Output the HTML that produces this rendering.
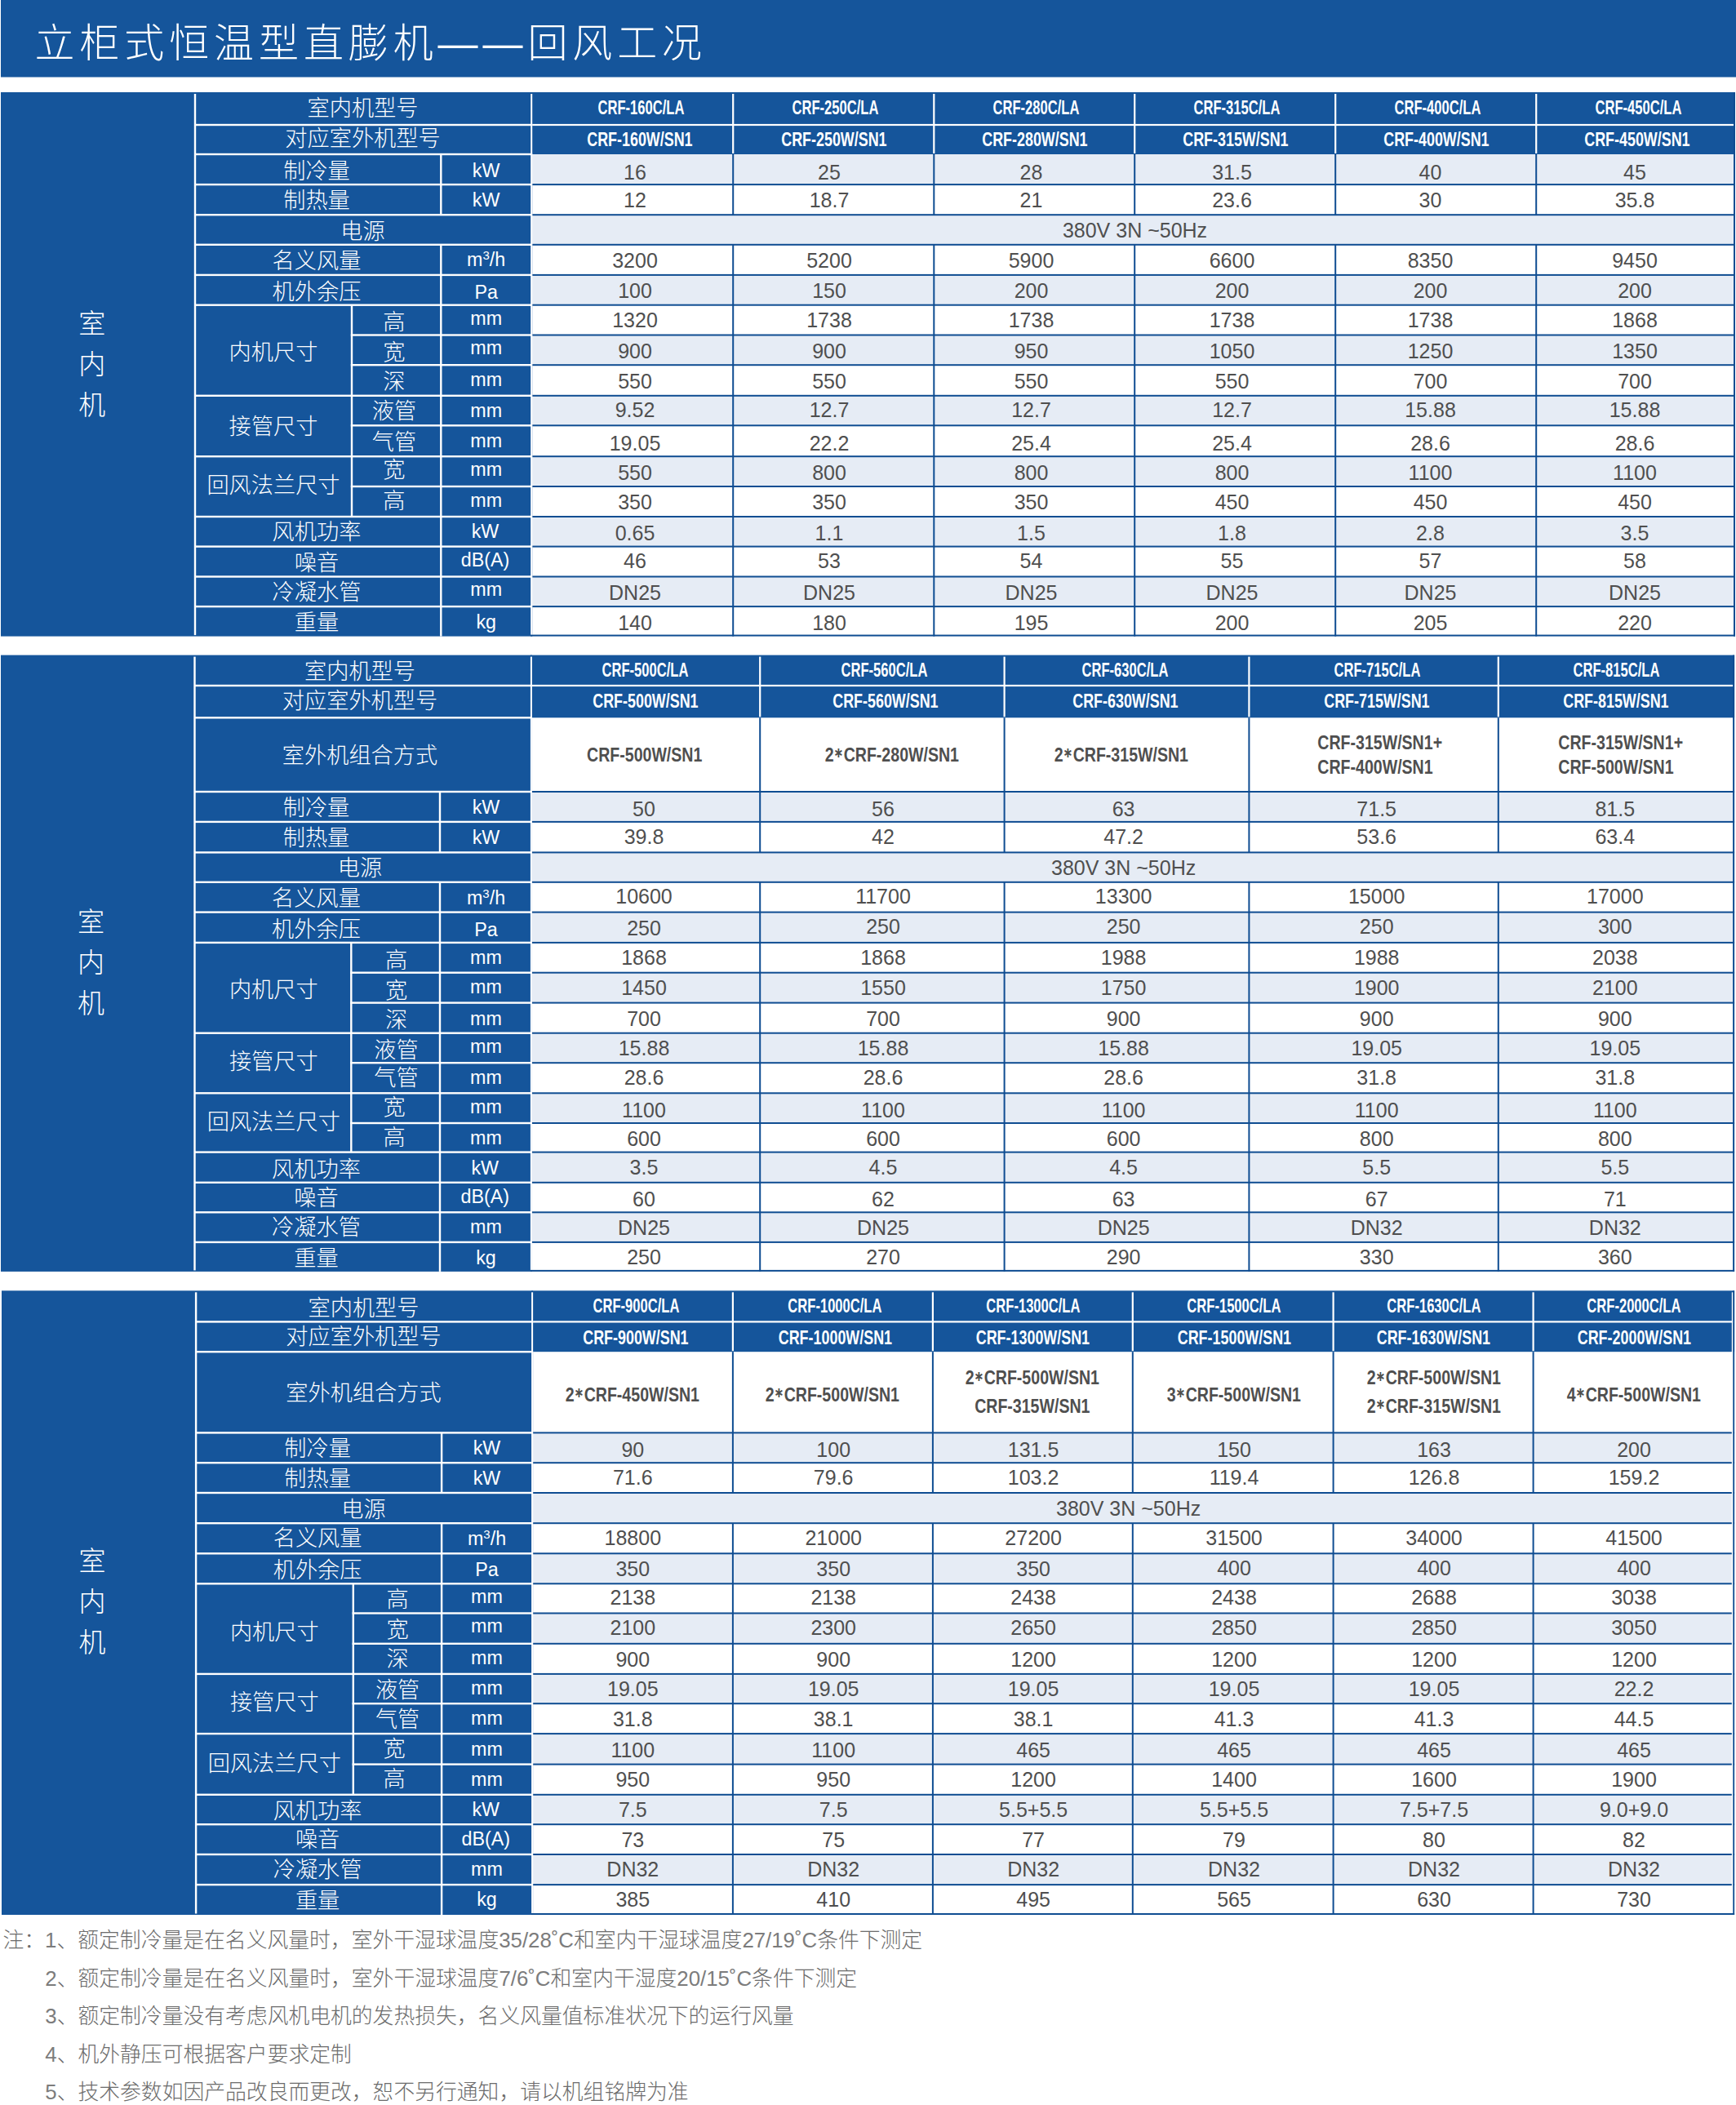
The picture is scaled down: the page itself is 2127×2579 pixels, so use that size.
<!DOCTYPE html>
<html lang="zh-CN"><head><meta charset="utf-8"><title>立柜式恒温型直膨机——回风工况</title><style>
html,body{margin:0;padding:0;background:#fff;width:2127px;height:2579px;overflow:hidden}
#pg{width:2127px;height:2579px;position:relative;overflow:hidden;font-family:"Liberation Sans","Noto Sans CJK SC",sans-serif}
.bg{position:absolute;left:0;top:0}
.t{position:absolute;text-align:center;white-space:nowrap;overflow:visible}
.cl{color:#fff;font-size:27.2px;font-weight:300}
.sd{color:#fff;font-size:33px;font-weight:300}
.u{color:#fff;font-size:23.3px}
.u sup{font-size:15px;vertical-align:baseline;position:relative;top:-8px;line-height:0}
.d{color:#4f4f4f;font-size:25px}
.h1{color:#fff;font-size:23px;font-weight:bold}
.h2{color:#fff;font-size:23.5px;font-weight:bold}
.cx{display:inline-block;transform-origin:50% 50%}
.cb{color:#4f4f4f;font-size:24px;font-weight:bold;display:flex;align-items:center;justify-content:center}
.cbi{display:inline-block;transform:scaleX(0.815)}
.ast{font-family:"DejaVu Sans",sans-serif;font-weight:bold;font-size:0.74em;line-height:0;position:relative;top:-4.6px}
.ttl{color:#fff;font-size:49px;font-weight:300;letter-spacing:5.9px}
.la{color:#7c7c7c}
.nt{color:#6c6c6c;font-size:25.8px;font-weight:300;text-align:left}
</style></head><body><div id="pg">
<svg class="bg" width="2127" height="2579" viewBox="0 0 2127 2579">
<rect x="1.0" y="0.0" width="2126.0" height="94.5" fill="#15559b"/>
<rect x="1.0" y="113.0" width="651.2" height="666.6" fill="#15559b"/>
<rect x="650.2" y="113.0" width="1475.8" height="76.0" fill="#15559b"/>
<rect x="652.2" y="189.0" width="1473.8" height="37.1" fill="#e6ecf5"/>
<rect x="652.2" y="263.2" width="1473.8" height="36.6" fill="#e6ecf5"/>
<rect x="652.2" y="336.9" width="1473.8" height="36.8" fill="#e6ecf5"/>
<rect x="652.2" y="410.5" width="1473.8" height="36.7" fill="#e6ecf5"/>
<rect x="652.2" y="484.8" width="1473.8" height="36.5" fill="#e6ecf5"/>
<rect x="652.2" y="559.2" width="1473.8" height="36.8" fill="#e6ecf5"/>
<rect x="652.2" y="633.0" width="1473.8" height="36.6" fill="#e6ecf5"/>
<rect x="652.2" y="706.5" width="1473.8" height="36.6" fill="#e6ecf5"/>
<rect x="239.0" y="151.8" width="413.2" height="2.4" fill="#fff"/>
<rect x="652.2" y="151.9" width="1473.8" height="2.2" fill="#fff"/>
<rect x="239.0" y="187.8" width="413.2" height="2.4" fill="#fff"/>
<rect x="239.0" y="224.9" width="413.2" height="2.4" fill="#fff"/>
<rect x="652.2" y="225.1" width="1473.8" height="2.0" fill="#0f4d92"/>
<rect x="239.0" y="262.0" width="413.2" height="2.4" fill="#fff"/>
<rect x="652.2" y="262.2" width="1473.8" height="2.0" fill="#0f4d92"/>
<rect x="239.0" y="298.6" width="413.2" height="2.4" fill="#fff"/>
<rect x="652.2" y="298.8" width="1473.8" height="2.0" fill="#0f4d92"/>
<rect x="239.0" y="335.7" width="413.2" height="2.4" fill="#fff"/>
<rect x="652.2" y="335.9" width="1473.8" height="2.0" fill="#0f4d92"/>
<rect x="239.0" y="372.5" width="413.2" height="2.4" fill="#fff"/>
<rect x="652.2" y="372.7" width="1473.8" height="2.0" fill="#0f4d92"/>
<rect x="429.8" y="409.3" width="222.4" height="2.4" fill="#fff"/>
<rect x="652.2" y="409.5" width="1473.8" height="2.0" fill="#0f4d92"/>
<rect x="429.8" y="446.0" width="222.4" height="2.4" fill="#fff"/>
<rect x="652.2" y="446.2" width="1473.8" height="2.0" fill="#0f4d92"/>
<rect x="239.0" y="483.6" width="413.2" height="2.4" fill="#fff"/>
<rect x="652.2" y="483.8" width="1473.8" height="2.0" fill="#0f4d92"/>
<rect x="429.8" y="520.1" width="222.4" height="2.4" fill="#fff"/>
<rect x="652.2" y="520.3" width="1473.8" height="2.0" fill="#0f4d92"/>
<rect x="239.0" y="558.0" width="413.2" height="2.4" fill="#fff"/>
<rect x="652.2" y="558.2" width="1473.8" height="2.0" fill="#0f4d92"/>
<rect x="429.8" y="594.8" width="222.4" height="2.4" fill="#fff"/>
<rect x="652.2" y="595.0" width="1473.8" height="2.0" fill="#0f4d92"/>
<rect x="239.0" y="631.8" width="413.2" height="2.4" fill="#fff"/>
<rect x="652.2" y="632.0" width="1473.8" height="2.0" fill="#0f4d92"/>
<rect x="239.0" y="668.4" width="413.2" height="2.4" fill="#fff"/>
<rect x="652.2" y="668.6" width="1473.8" height="2.0" fill="#0f4d92"/>
<rect x="239.0" y="705.3" width="413.2" height="2.4" fill="#fff"/>
<rect x="652.2" y="705.5" width="1473.8" height="2.0" fill="#0f4d92"/>
<rect x="239.0" y="741.9" width="413.2" height="2.4" fill="#fff"/>
<rect x="652.2" y="742.1" width="1473.8" height="2.0" fill="#0f4d92"/>
<rect x="650.2" y="777.6" width="1475.8" height="2.0" fill="#0f4d92"/>
<rect x="650.2" y="115.0" width="2.0" height="662.6" fill="#fff"/>
<rect x="237.8" y="115.0" width="2.4" height="663.1" fill="#fff"/>
<rect x="539.1" y="189.0" width="2.4" height="37.1" fill="#fff"/>
<rect x="539.1" y="226.1" width="2.4" height="37.1" fill="#fff"/>
<rect x="539.1" y="299.8" width="2.4" height="37.1" fill="#fff"/>
<rect x="539.1" y="336.9" width="2.4" height="36.8" fill="#fff"/>
<rect x="539.1" y="373.7" width="2.4" height="36.8" fill="#fff"/>
<rect x="429.8" y="373.7" width="2.4" height="36.8" fill="#fff"/>
<rect x="539.1" y="410.5" width="2.4" height="36.7" fill="#fff"/>
<rect x="429.8" y="410.5" width="2.4" height="36.7" fill="#fff"/>
<rect x="539.1" y="447.2" width="2.4" height="37.6" fill="#fff"/>
<rect x="429.8" y="447.2" width="2.4" height="37.6" fill="#fff"/>
<rect x="539.1" y="484.8" width="2.4" height="36.5" fill="#fff"/>
<rect x="429.8" y="484.8" width="2.4" height="36.5" fill="#fff"/>
<rect x="539.1" y="521.3" width="2.4" height="37.9" fill="#fff"/>
<rect x="429.8" y="521.3" width="2.4" height="37.9" fill="#fff"/>
<rect x="539.1" y="559.2" width="2.4" height="36.8" fill="#fff"/>
<rect x="429.8" y="559.2" width="2.4" height="36.8" fill="#fff"/>
<rect x="539.1" y="596.0" width="2.4" height="37.0" fill="#fff"/>
<rect x="429.8" y="596.0" width="2.4" height="37.0" fill="#fff"/>
<rect x="539.1" y="633.0" width="2.4" height="36.6" fill="#fff"/>
<rect x="539.1" y="669.6" width="2.4" height="36.9" fill="#fff"/>
<rect x="539.1" y="706.5" width="2.4" height="36.6" fill="#fff"/>
<rect x="539.1" y="743.1" width="2.4" height="36.5" fill="#fff"/>
<rect x="897.1" y="115.0" width="2.2" height="73.0" fill="#fff"/>
<rect x="897.2" y="189.0" width="2.0" height="37.1" fill="#0f4d92"/>
<rect x="897.2" y="226.1" width="2.0" height="37.1" fill="#0f4d92"/>
<rect x="897.2" y="299.8" width="2.0" height="37.1" fill="#0f4d92"/>
<rect x="897.2" y="336.9" width="2.0" height="36.8" fill="#0f4d92"/>
<rect x="897.2" y="373.7" width="2.0" height="36.8" fill="#0f4d92"/>
<rect x="897.2" y="410.5" width="2.0" height="36.7" fill="#0f4d92"/>
<rect x="897.2" y="447.2" width="2.0" height="37.6" fill="#0f4d92"/>
<rect x="897.2" y="484.8" width="2.0" height="36.5" fill="#0f4d92"/>
<rect x="897.2" y="521.3" width="2.0" height="37.9" fill="#0f4d92"/>
<rect x="897.2" y="559.2" width="2.0" height="36.8" fill="#0f4d92"/>
<rect x="897.2" y="596.0" width="2.0" height="37.0" fill="#0f4d92"/>
<rect x="897.2" y="633.0" width="2.0" height="36.6" fill="#0f4d92"/>
<rect x="897.2" y="669.6" width="2.0" height="36.9" fill="#0f4d92"/>
<rect x="897.2" y="706.5" width="2.0" height="36.6" fill="#0f4d92"/>
<rect x="897.2" y="743.1" width="2.0" height="36.5" fill="#0f4d92"/>
<rect x="1143.2" y="115.0" width="2.2" height="73.0" fill="#fff"/>
<rect x="1143.3" y="189.0" width="2.0" height="37.1" fill="#0f4d92"/>
<rect x="1143.3" y="226.1" width="2.0" height="37.1" fill="#0f4d92"/>
<rect x="1143.3" y="299.8" width="2.0" height="37.1" fill="#0f4d92"/>
<rect x="1143.3" y="336.9" width="2.0" height="36.8" fill="#0f4d92"/>
<rect x="1143.3" y="373.7" width="2.0" height="36.8" fill="#0f4d92"/>
<rect x="1143.3" y="410.5" width="2.0" height="36.7" fill="#0f4d92"/>
<rect x="1143.3" y="447.2" width="2.0" height="37.6" fill="#0f4d92"/>
<rect x="1143.3" y="484.8" width="2.0" height="36.5" fill="#0f4d92"/>
<rect x="1143.3" y="521.3" width="2.0" height="37.9" fill="#0f4d92"/>
<rect x="1143.3" y="559.2" width="2.0" height="36.8" fill="#0f4d92"/>
<rect x="1143.3" y="596.0" width="2.0" height="37.0" fill="#0f4d92"/>
<rect x="1143.3" y="633.0" width="2.0" height="36.6" fill="#0f4d92"/>
<rect x="1143.3" y="669.6" width="2.0" height="36.9" fill="#0f4d92"/>
<rect x="1143.3" y="706.5" width="2.0" height="36.6" fill="#0f4d92"/>
<rect x="1143.3" y="743.1" width="2.0" height="36.5" fill="#0f4d92"/>
<rect x="1389.1" y="115.0" width="2.2" height="73.0" fill="#fff"/>
<rect x="1389.2" y="189.0" width="2.0" height="37.1" fill="#0f4d92"/>
<rect x="1389.2" y="226.1" width="2.0" height="37.1" fill="#0f4d92"/>
<rect x="1389.2" y="299.8" width="2.0" height="37.1" fill="#0f4d92"/>
<rect x="1389.2" y="336.9" width="2.0" height="36.8" fill="#0f4d92"/>
<rect x="1389.2" y="373.7" width="2.0" height="36.8" fill="#0f4d92"/>
<rect x="1389.2" y="410.5" width="2.0" height="36.7" fill="#0f4d92"/>
<rect x="1389.2" y="447.2" width="2.0" height="37.6" fill="#0f4d92"/>
<rect x="1389.2" y="484.8" width="2.0" height="36.5" fill="#0f4d92"/>
<rect x="1389.2" y="521.3" width="2.0" height="37.9" fill="#0f4d92"/>
<rect x="1389.2" y="559.2" width="2.0" height="36.8" fill="#0f4d92"/>
<rect x="1389.2" y="596.0" width="2.0" height="37.0" fill="#0f4d92"/>
<rect x="1389.2" y="633.0" width="2.0" height="36.6" fill="#0f4d92"/>
<rect x="1389.2" y="669.6" width="2.0" height="36.9" fill="#0f4d92"/>
<rect x="1389.2" y="706.5" width="2.0" height="36.6" fill="#0f4d92"/>
<rect x="1389.2" y="743.1" width="2.0" height="36.5" fill="#0f4d92"/>
<rect x="1635.1" y="115.0" width="2.2" height="73.0" fill="#fff"/>
<rect x="1635.2" y="189.0" width="2.0" height="37.1" fill="#0f4d92"/>
<rect x="1635.2" y="226.1" width="2.0" height="37.1" fill="#0f4d92"/>
<rect x="1635.2" y="299.8" width="2.0" height="37.1" fill="#0f4d92"/>
<rect x="1635.2" y="336.9" width="2.0" height="36.8" fill="#0f4d92"/>
<rect x="1635.2" y="373.7" width="2.0" height="36.8" fill="#0f4d92"/>
<rect x="1635.2" y="410.5" width="2.0" height="36.7" fill="#0f4d92"/>
<rect x="1635.2" y="447.2" width="2.0" height="37.6" fill="#0f4d92"/>
<rect x="1635.2" y="484.8" width="2.0" height="36.5" fill="#0f4d92"/>
<rect x="1635.2" y="521.3" width="2.0" height="37.9" fill="#0f4d92"/>
<rect x="1635.2" y="559.2" width="2.0" height="36.8" fill="#0f4d92"/>
<rect x="1635.2" y="596.0" width="2.0" height="37.0" fill="#0f4d92"/>
<rect x="1635.2" y="633.0" width="2.0" height="36.6" fill="#0f4d92"/>
<rect x="1635.2" y="669.6" width="2.0" height="36.9" fill="#0f4d92"/>
<rect x="1635.2" y="706.5" width="2.0" height="36.6" fill="#0f4d92"/>
<rect x="1635.2" y="743.1" width="2.0" height="36.5" fill="#0f4d92"/>
<rect x="1881.1" y="115.0" width="2.2" height="73.0" fill="#fff"/>
<rect x="1881.2" y="189.0" width="2.0" height="37.1" fill="#0f4d92"/>
<rect x="1881.2" y="226.1" width="2.0" height="37.1" fill="#0f4d92"/>
<rect x="1881.2" y="299.8" width="2.0" height="37.1" fill="#0f4d92"/>
<rect x="1881.2" y="336.9" width="2.0" height="36.8" fill="#0f4d92"/>
<rect x="1881.2" y="373.7" width="2.0" height="36.8" fill="#0f4d92"/>
<rect x="1881.2" y="410.5" width="2.0" height="36.7" fill="#0f4d92"/>
<rect x="1881.2" y="447.2" width="2.0" height="37.6" fill="#0f4d92"/>
<rect x="1881.2" y="484.8" width="2.0" height="36.5" fill="#0f4d92"/>
<rect x="1881.2" y="521.3" width="2.0" height="37.9" fill="#0f4d92"/>
<rect x="1881.2" y="559.2" width="2.0" height="36.8" fill="#0f4d92"/>
<rect x="1881.2" y="596.0" width="2.0" height="37.0" fill="#0f4d92"/>
<rect x="1881.2" y="633.0" width="2.0" height="36.6" fill="#0f4d92"/>
<rect x="1881.2" y="669.6" width="2.0" height="36.9" fill="#0f4d92"/>
<rect x="1881.2" y="706.5" width="2.0" height="36.6" fill="#0f4d92"/>
<rect x="1881.2" y="743.1" width="2.0" height="36.5" fill="#0f4d92"/>
<rect x="2124.0" y="113.0" width="2.0" height="666.6" fill="#0f4d92"/>
<rect x="1.0" y="802.6" width="650.9" height="755.3" fill="#15559b"/>
<rect x="649.9" y="802.6" width="1475.2" height="76.7" fill="#15559b"/>
<rect x="651.9" y="970.0" width="1473.2" height="36.9" fill="#e6ecf5"/>
<rect x="651.9" y="1044.4" width="1473.2" height="36.4" fill="#e6ecf5"/>
<rect x="651.9" y="1117.6" width="1473.2" height="37.3" fill="#e6ecf5"/>
<rect x="651.9" y="1191.7" width="1473.2" height="36.9" fill="#e6ecf5"/>
<rect x="651.9" y="1265.7" width="1473.2" height="36.5" fill="#e6ecf5"/>
<rect x="651.9" y="1339.3" width="1473.2" height="36.7" fill="#e6ecf5"/>
<rect x="651.9" y="1411.6" width="1473.2" height="37.2" fill="#e6ecf5"/>
<rect x="651.9" y="1485.3" width="1473.2" height="36.6" fill="#e6ecf5"/>
<rect x="238.5" y="838.8" width="413.4" height="2.4" fill="#fff"/>
<rect x="651.9" y="838.9" width="1473.2" height="2.2" fill="#fff"/>
<rect x="238.5" y="878.1" width="413.4" height="2.4" fill="#fff"/>
<rect x="238.5" y="968.8" width="413.4" height="2.4" fill="#fff"/>
<rect x="651.9" y="969.0" width="1473.2" height="2.0" fill="#0f4d92"/>
<rect x="238.5" y="1005.7" width="413.4" height="2.4" fill="#fff"/>
<rect x="651.9" y="1005.9" width="1473.2" height="2.0" fill="#0f4d92"/>
<rect x="238.5" y="1043.2" width="413.4" height="2.4" fill="#fff"/>
<rect x="651.9" y="1043.4" width="1473.2" height="2.0" fill="#0f4d92"/>
<rect x="238.5" y="1079.6" width="413.4" height="2.4" fill="#fff"/>
<rect x="651.9" y="1079.8" width="1473.2" height="2.0" fill="#0f4d92"/>
<rect x="238.5" y="1116.4" width="413.4" height="2.4" fill="#fff"/>
<rect x="651.9" y="1116.6" width="1473.2" height="2.0" fill="#0f4d92"/>
<rect x="238.5" y="1153.7" width="413.4" height="2.4" fill="#fff"/>
<rect x="651.9" y="1153.9" width="1473.2" height="2.0" fill="#0f4d92"/>
<rect x="429.1" y="1190.5" width="222.8" height="2.4" fill="#fff"/>
<rect x="651.9" y="1190.7" width="1473.2" height="2.0" fill="#0f4d92"/>
<rect x="429.1" y="1227.4" width="222.8" height="2.4" fill="#fff"/>
<rect x="651.9" y="1227.6" width="1473.2" height="2.0" fill="#0f4d92"/>
<rect x="238.5" y="1264.5" width="413.4" height="2.4" fill="#fff"/>
<rect x="651.9" y="1264.7" width="1473.2" height="2.0" fill="#0f4d92"/>
<rect x="429.1" y="1301.0" width="222.8" height="2.4" fill="#fff"/>
<rect x="651.9" y="1301.2" width="1473.2" height="2.0" fill="#0f4d92"/>
<rect x="238.5" y="1338.1" width="413.4" height="2.4" fill="#fff"/>
<rect x="651.9" y="1338.3" width="1473.2" height="2.0" fill="#0f4d92"/>
<rect x="429.1" y="1374.8" width="222.8" height="2.4" fill="#fff"/>
<rect x="651.9" y="1375.0" width="1473.2" height="2.0" fill="#0f4d92"/>
<rect x="238.5" y="1410.4" width="413.4" height="2.4" fill="#fff"/>
<rect x="651.9" y="1410.6" width="1473.2" height="2.0" fill="#0f4d92"/>
<rect x="238.5" y="1447.6" width="413.4" height="2.4" fill="#fff"/>
<rect x="651.9" y="1447.8" width="1473.2" height="2.0" fill="#0f4d92"/>
<rect x="238.5" y="1484.1" width="413.4" height="2.4" fill="#fff"/>
<rect x="651.9" y="1484.3" width="1473.2" height="2.0" fill="#0f4d92"/>
<rect x="238.5" y="1520.7" width="413.4" height="2.4" fill="#fff"/>
<rect x="651.9" y="1520.9" width="1473.2" height="2.0" fill="#0f4d92"/>
<rect x="649.9" y="1555.9" width="1475.2" height="2.0" fill="#0f4d92"/>
<rect x="649.9" y="804.6" width="2.0" height="751.3" fill="#fff"/>
<rect x="237.3" y="804.6" width="2.4" height="751.8" fill="#fff"/>
<rect x="537.8" y="970.0" width="2.4" height="36.9" fill="#fff"/>
<rect x="537.8" y="1006.9" width="2.4" height="37.5" fill="#fff"/>
<rect x="537.8" y="1080.8" width="2.4" height="36.8" fill="#fff"/>
<rect x="537.8" y="1117.6" width="2.4" height="37.3" fill="#fff"/>
<rect x="537.8" y="1154.9" width="2.4" height="36.8" fill="#fff"/>
<rect x="429.1" y="1154.9" width="2.4" height="36.8" fill="#fff"/>
<rect x="537.8" y="1191.7" width="2.4" height="36.9" fill="#fff"/>
<rect x="429.1" y="1191.7" width="2.4" height="36.9" fill="#fff"/>
<rect x="537.8" y="1228.6" width="2.4" height="37.1" fill="#fff"/>
<rect x="429.1" y="1228.6" width="2.4" height="37.1" fill="#fff"/>
<rect x="537.8" y="1265.7" width="2.4" height="36.5" fill="#fff"/>
<rect x="429.1" y="1265.7" width="2.4" height="36.5" fill="#fff"/>
<rect x="537.8" y="1302.2" width="2.4" height="37.1" fill="#fff"/>
<rect x="429.1" y="1302.2" width="2.4" height="37.1" fill="#fff"/>
<rect x="537.8" y="1339.3" width="2.4" height="36.7" fill="#fff"/>
<rect x="429.1" y="1339.3" width="2.4" height="36.7" fill="#fff"/>
<rect x="537.8" y="1376.0" width="2.4" height="35.6" fill="#fff"/>
<rect x="429.1" y="1376.0" width="2.4" height="35.6" fill="#fff"/>
<rect x="537.8" y="1411.6" width="2.4" height="37.2" fill="#fff"/>
<rect x="537.8" y="1448.8" width="2.4" height="36.5" fill="#fff"/>
<rect x="537.8" y="1485.3" width="2.4" height="36.6" fill="#fff"/>
<rect x="537.8" y="1521.9" width="2.4" height="36.0" fill="#fff"/>
<rect x="930.1" y="804.6" width="2.2" height="73.7" fill="#fff"/>
<rect x="930.2" y="970.0" width="2.0" height="36.9" fill="#0f4d92"/>
<rect x="930.2" y="1006.9" width="2.0" height="37.5" fill="#0f4d92"/>
<rect x="930.2" y="1080.8" width="2.0" height="36.8" fill="#0f4d92"/>
<rect x="930.2" y="1117.6" width="2.0" height="37.3" fill="#0f4d92"/>
<rect x="930.2" y="1154.9" width="2.0" height="36.8" fill="#0f4d92"/>
<rect x="930.2" y="1191.7" width="2.0" height="36.9" fill="#0f4d92"/>
<rect x="930.2" y="1228.6" width="2.0" height="37.1" fill="#0f4d92"/>
<rect x="930.2" y="1265.7" width="2.0" height="36.5" fill="#0f4d92"/>
<rect x="930.2" y="1302.2" width="2.0" height="37.1" fill="#0f4d92"/>
<rect x="930.2" y="1339.3" width="2.0" height="36.7" fill="#0f4d92"/>
<rect x="930.2" y="1376.0" width="2.0" height="35.6" fill="#0f4d92"/>
<rect x="930.2" y="1411.6" width="2.0" height="37.2" fill="#0f4d92"/>
<rect x="930.2" y="1448.8" width="2.0" height="36.5" fill="#0f4d92"/>
<rect x="930.2" y="1485.3" width="2.0" height="36.6" fill="#0f4d92"/>
<rect x="930.2" y="1521.9" width="2.0" height="36.0" fill="#0f4d92"/>
<rect x="930.2" y="879.3" width="2.0" height="90.7" fill="#0f4d92"/>
<rect x="1229.5" y="804.6" width="2.2" height="73.7" fill="#fff"/>
<rect x="1229.6" y="970.0" width="2.0" height="36.9" fill="#0f4d92"/>
<rect x="1229.6" y="1006.9" width="2.0" height="37.5" fill="#0f4d92"/>
<rect x="1229.6" y="1080.8" width="2.0" height="36.8" fill="#0f4d92"/>
<rect x="1229.6" y="1117.6" width="2.0" height="37.3" fill="#0f4d92"/>
<rect x="1229.6" y="1154.9" width="2.0" height="36.8" fill="#0f4d92"/>
<rect x="1229.6" y="1191.7" width="2.0" height="36.9" fill="#0f4d92"/>
<rect x="1229.6" y="1228.6" width="2.0" height="37.1" fill="#0f4d92"/>
<rect x="1229.6" y="1265.7" width="2.0" height="36.5" fill="#0f4d92"/>
<rect x="1229.6" y="1302.2" width="2.0" height="37.1" fill="#0f4d92"/>
<rect x="1229.6" y="1339.3" width="2.0" height="36.7" fill="#0f4d92"/>
<rect x="1229.6" y="1376.0" width="2.0" height="35.6" fill="#0f4d92"/>
<rect x="1229.6" y="1411.6" width="2.0" height="37.2" fill="#0f4d92"/>
<rect x="1229.6" y="1448.8" width="2.0" height="36.5" fill="#0f4d92"/>
<rect x="1229.6" y="1485.3" width="2.0" height="36.6" fill="#0f4d92"/>
<rect x="1229.6" y="1521.9" width="2.0" height="36.0" fill="#0f4d92"/>
<rect x="1229.6" y="879.3" width="2.0" height="90.7" fill="#0f4d92"/>
<rect x="1529.3" y="804.6" width="2.2" height="73.7" fill="#fff"/>
<rect x="1529.4" y="970.0" width="2.0" height="36.9" fill="#0f4d92"/>
<rect x="1529.4" y="1006.9" width="2.0" height="37.5" fill="#0f4d92"/>
<rect x="1529.4" y="1080.8" width="2.0" height="36.8" fill="#0f4d92"/>
<rect x="1529.4" y="1117.6" width="2.0" height="37.3" fill="#0f4d92"/>
<rect x="1529.4" y="1154.9" width="2.0" height="36.8" fill="#0f4d92"/>
<rect x="1529.4" y="1191.7" width="2.0" height="36.9" fill="#0f4d92"/>
<rect x="1529.4" y="1228.6" width="2.0" height="37.1" fill="#0f4d92"/>
<rect x="1529.4" y="1265.7" width="2.0" height="36.5" fill="#0f4d92"/>
<rect x="1529.4" y="1302.2" width="2.0" height="37.1" fill="#0f4d92"/>
<rect x="1529.4" y="1339.3" width="2.0" height="36.7" fill="#0f4d92"/>
<rect x="1529.4" y="1376.0" width="2.0" height="35.6" fill="#0f4d92"/>
<rect x="1529.4" y="1411.6" width="2.0" height="37.2" fill="#0f4d92"/>
<rect x="1529.4" y="1448.8" width="2.0" height="36.5" fill="#0f4d92"/>
<rect x="1529.4" y="1485.3" width="2.0" height="36.6" fill="#0f4d92"/>
<rect x="1529.4" y="1521.9" width="2.0" height="36.0" fill="#0f4d92"/>
<rect x="1529.4" y="879.3" width="2.0" height="90.7" fill="#0f4d92"/>
<rect x="1834.7" y="804.6" width="2.2" height="73.7" fill="#fff"/>
<rect x="1834.8" y="970.0" width="2.0" height="36.9" fill="#0f4d92"/>
<rect x="1834.8" y="1006.9" width="2.0" height="37.5" fill="#0f4d92"/>
<rect x="1834.8" y="1080.8" width="2.0" height="36.8" fill="#0f4d92"/>
<rect x="1834.8" y="1117.6" width="2.0" height="37.3" fill="#0f4d92"/>
<rect x="1834.8" y="1154.9" width="2.0" height="36.8" fill="#0f4d92"/>
<rect x="1834.8" y="1191.7" width="2.0" height="36.9" fill="#0f4d92"/>
<rect x="1834.8" y="1228.6" width="2.0" height="37.1" fill="#0f4d92"/>
<rect x="1834.8" y="1265.7" width="2.0" height="36.5" fill="#0f4d92"/>
<rect x="1834.8" y="1302.2" width="2.0" height="37.1" fill="#0f4d92"/>
<rect x="1834.8" y="1339.3" width="2.0" height="36.7" fill="#0f4d92"/>
<rect x="1834.8" y="1376.0" width="2.0" height="35.6" fill="#0f4d92"/>
<rect x="1834.8" y="1411.6" width="2.0" height="37.2" fill="#0f4d92"/>
<rect x="1834.8" y="1448.8" width="2.0" height="36.5" fill="#0f4d92"/>
<rect x="1834.8" y="1485.3" width="2.0" height="36.6" fill="#0f4d92"/>
<rect x="1834.8" y="1521.9" width="2.0" height="36.0" fill="#0f4d92"/>
<rect x="1834.8" y="879.3" width="2.0" height="90.7" fill="#0f4d92"/>
<rect x="2123.1" y="802.6" width="2.0" height="755.3" fill="#0f4d92"/>
<rect x="2.0" y="1581.3" width="651.1" height="764.7" fill="#15559b"/>
<rect x="651.1" y="1581.3" width="1474.0" height="74.9" fill="#15559b"/>
<rect x="653.1" y="1755.4" width="1472.0" height="36.8" fill="#e6ecf5"/>
<rect x="653.1" y="1829.0" width="1472.0" height="37.2" fill="#e6ecf5"/>
<rect x="653.1" y="1903.3" width="1472.0" height="37.0" fill="#e6ecf5"/>
<rect x="653.1" y="1976.5" width="1472.0" height="37.3" fill="#e6ecf5"/>
<rect x="653.1" y="2050.9" width="1472.0" height="36.3" fill="#e6ecf5"/>
<rect x="653.1" y="2124.1" width="1472.0" height="37.5" fill="#e6ecf5"/>
<rect x="653.1" y="2198.8" width="1472.0" height="36.4" fill="#e6ecf5"/>
<rect x="653.1" y="2272.0" width="1472.0" height="37.1" fill="#e6ecf5"/>
<rect x="240.1" y="1618.2" width="413.0" height="2.4" fill="#fff"/>
<rect x="653.1" y="1618.3" width="1472.0" height="2.2" fill="#fff"/>
<rect x="240.1" y="1655.0" width="413.0" height="2.4" fill="#fff"/>
<rect x="240.1" y="1754.2" width="413.0" height="2.4" fill="#fff"/>
<rect x="653.1" y="1754.4" width="1472.0" height="2.0" fill="#0f4d92"/>
<rect x="240.1" y="1791.0" width="413.0" height="2.4" fill="#fff"/>
<rect x="653.1" y="1791.2" width="1472.0" height="2.0" fill="#0f4d92"/>
<rect x="240.1" y="1827.8" width="413.0" height="2.4" fill="#fff"/>
<rect x="653.1" y="1828.0" width="1472.0" height="2.0" fill="#0f4d92"/>
<rect x="240.1" y="1865.0" width="413.0" height="2.4" fill="#fff"/>
<rect x="653.1" y="1865.2" width="1472.0" height="2.0" fill="#0f4d92"/>
<rect x="240.1" y="1902.1" width="413.0" height="2.4" fill="#fff"/>
<rect x="653.1" y="1902.3" width="1472.0" height="2.0" fill="#0f4d92"/>
<rect x="240.1" y="1939.1" width="413.0" height="2.4" fill="#fff"/>
<rect x="653.1" y="1939.3" width="1472.0" height="2.0" fill="#0f4d92"/>
<rect x="431.6" y="1975.3" width="221.5" height="2.4" fill="#fff"/>
<rect x="653.1" y="1975.5" width="1472.0" height="2.0" fill="#0f4d92"/>
<rect x="431.6" y="2012.6" width="221.5" height="2.4" fill="#fff"/>
<rect x="653.1" y="2012.8" width="1472.0" height="2.0" fill="#0f4d92"/>
<rect x="240.1" y="2049.7" width="413.0" height="2.4" fill="#fff"/>
<rect x="653.1" y="2049.9" width="1472.0" height="2.0" fill="#0f4d92"/>
<rect x="431.6" y="2086.0" width="221.5" height="2.4" fill="#fff"/>
<rect x="653.1" y="2086.2" width="1472.0" height="2.0" fill="#0f4d92"/>
<rect x="240.1" y="2122.9" width="413.0" height="2.4" fill="#fff"/>
<rect x="653.1" y="2123.1" width="1472.0" height="2.0" fill="#0f4d92"/>
<rect x="431.6" y="2160.4" width="221.5" height="2.4" fill="#fff"/>
<rect x="653.1" y="2160.6" width="1472.0" height="2.0" fill="#0f4d92"/>
<rect x="240.1" y="2197.6" width="413.0" height="2.4" fill="#fff"/>
<rect x="653.1" y="2197.8" width="1472.0" height="2.0" fill="#0f4d92"/>
<rect x="240.1" y="2234.0" width="413.0" height="2.4" fill="#fff"/>
<rect x="653.1" y="2234.2" width="1472.0" height="2.0" fill="#0f4d92"/>
<rect x="240.1" y="2270.8" width="413.0" height="2.4" fill="#fff"/>
<rect x="653.1" y="2271.0" width="1472.0" height="2.0" fill="#0f4d92"/>
<rect x="240.1" y="2307.9" width="413.0" height="2.4" fill="#fff"/>
<rect x="653.1" y="2308.1" width="1472.0" height="2.0" fill="#0f4d92"/>
<rect x="651.1" y="2344.0" width="1474.0" height="2.0" fill="#0f4d92"/>
<rect x="651.1" y="1583.3" width="2.0" height="760.7" fill="#fff"/>
<rect x="238.9" y="1583.3" width="2.4" height="761.2" fill="#fff"/>
<rect x="539.9" y="1755.4" width="2.4" height="36.8" fill="#fff"/>
<rect x="539.9" y="1792.2" width="2.4" height="36.8" fill="#fff"/>
<rect x="539.9" y="1866.2" width="2.4" height="37.1" fill="#fff"/>
<rect x="539.9" y="1903.3" width="2.4" height="37.0" fill="#fff"/>
<rect x="539.9" y="1940.3" width="2.4" height="36.2" fill="#fff"/>
<rect x="431.6" y="1940.3" width="2.4" height="36.2" fill="#fff"/>
<rect x="539.9" y="1976.5" width="2.4" height="37.3" fill="#fff"/>
<rect x="431.6" y="1976.5" width="2.4" height="37.3" fill="#fff"/>
<rect x="539.9" y="2013.8" width="2.4" height="37.1" fill="#fff"/>
<rect x="431.6" y="2013.8" width="2.4" height="37.1" fill="#fff"/>
<rect x="539.9" y="2050.9" width="2.4" height="36.3" fill="#fff"/>
<rect x="431.6" y="2050.9" width="2.4" height="36.3" fill="#fff"/>
<rect x="539.9" y="2087.2" width="2.4" height="36.9" fill="#fff"/>
<rect x="431.6" y="2087.2" width="2.4" height="36.9" fill="#fff"/>
<rect x="539.9" y="2124.1" width="2.4" height="37.5" fill="#fff"/>
<rect x="431.6" y="2124.1" width="2.4" height="37.5" fill="#fff"/>
<rect x="539.9" y="2161.6" width="2.4" height="37.2" fill="#fff"/>
<rect x="431.6" y="2161.6" width="2.4" height="37.2" fill="#fff"/>
<rect x="539.9" y="2198.8" width="2.4" height="36.4" fill="#fff"/>
<rect x="539.9" y="2235.2" width="2.4" height="36.8" fill="#fff"/>
<rect x="539.9" y="2272.0" width="2.4" height="37.1" fill="#fff"/>
<rect x="539.9" y="2309.1" width="2.4" height="36.9" fill="#fff"/>
<rect x="896.8" y="1583.3" width="2.2" height="71.9" fill="#fff"/>
<rect x="896.9" y="1755.4" width="2.0" height="36.8" fill="#0f4d92"/>
<rect x="896.9" y="1792.2" width="2.0" height="36.8" fill="#0f4d92"/>
<rect x="896.9" y="1866.2" width="2.0" height="37.1" fill="#0f4d92"/>
<rect x="896.9" y="1903.3" width="2.0" height="37.0" fill="#0f4d92"/>
<rect x="896.9" y="1940.3" width="2.0" height="36.2" fill="#0f4d92"/>
<rect x="896.9" y="1976.5" width="2.0" height="37.3" fill="#0f4d92"/>
<rect x="896.9" y="2013.8" width="2.0" height="37.1" fill="#0f4d92"/>
<rect x="896.9" y="2050.9" width="2.0" height="36.3" fill="#0f4d92"/>
<rect x="896.9" y="2087.2" width="2.0" height="36.9" fill="#0f4d92"/>
<rect x="896.9" y="2124.1" width="2.0" height="37.5" fill="#0f4d92"/>
<rect x="896.9" y="2161.6" width="2.0" height="37.2" fill="#0f4d92"/>
<rect x="896.9" y="2198.8" width="2.0" height="36.4" fill="#0f4d92"/>
<rect x="896.9" y="2235.2" width="2.0" height="36.8" fill="#0f4d92"/>
<rect x="896.9" y="2272.0" width="2.0" height="37.1" fill="#0f4d92"/>
<rect x="896.9" y="2309.1" width="2.0" height="36.9" fill="#0f4d92"/>
<rect x="896.9" y="1656.2" width="2.0" height="99.2" fill="#0f4d92"/>
<rect x="1141.8" y="1583.3" width="2.2" height="71.9" fill="#fff"/>
<rect x="1141.9" y="1755.4" width="2.0" height="36.8" fill="#0f4d92"/>
<rect x="1141.9" y="1792.2" width="2.0" height="36.8" fill="#0f4d92"/>
<rect x="1141.9" y="1866.2" width="2.0" height="37.1" fill="#0f4d92"/>
<rect x="1141.9" y="1903.3" width="2.0" height="37.0" fill="#0f4d92"/>
<rect x="1141.9" y="1940.3" width="2.0" height="36.2" fill="#0f4d92"/>
<rect x="1141.9" y="1976.5" width="2.0" height="37.3" fill="#0f4d92"/>
<rect x="1141.9" y="2013.8" width="2.0" height="37.1" fill="#0f4d92"/>
<rect x="1141.9" y="2050.9" width="2.0" height="36.3" fill="#0f4d92"/>
<rect x="1141.9" y="2087.2" width="2.0" height="36.9" fill="#0f4d92"/>
<rect x="1141.9" y="2124.1" width="2.0" height="37.5" fill="#0f4d92"/>
<rect x="1141.9" y="2161.6" width="2.0" height="37.2" fill="#0f4d92"/>
<rect x="1141.9" y="2198.8" width="2.0" height="36.4" fill="#0f4d92"/>
<rect x="1141.9" y="2235.2" width="2.0" height="36.8" fill="#0f4d92"/>
<rect x="1141.9" y="2272.0" width="2.0" height="37.1" fill="#0f4d92"/>
<rect x="1141.9" y="2309.1" width="2.0" height="36.9" fill="#0f4d92"/>
<rect x="1141.9" y="1656.2" width="2.0" height="99.2" fill="#0f4d92"/>
<rect x="1386.7" y="1583.3" width="2.2" height="71.9" fill="#fff"/>
<rect x="1386.8" y="1755.4" width="2.0" height="36.8" fill="#0f4d92"/>
<rect x="1386.8" y="1792.2" width="2.0" height="36.8" fill="#0f4d92"/>
<rect x="1386.8" y="1866.2" width="2.0" height="37.1" fill="#0f4d92"/>
<rect x="1386.8" y="1903.3" width="2.0" height="37.0" fill="#0f4d92"/>
<rect x="1386.8" y="1940.3" width="2.0" height="36.2" fill="#0f4d92"/>
<rect x="1386.8" y="1976.5" width="2.0" height="37.3" fill="#0f4d92"/>
<rect x="1386.8" y="2013.8" width="2.0" height="37.1" fill="#0f4d92"/>
<rect x="1386.8" y="2050.9" width="2.0" height="36.3" fill="#0f4d92"/>
<rect x="1386.8" y="2087.2" width="2.0" height="36.9" fill="#0f4d92"/>
<rect x="1386.8" y="2124.1" width="2.0" height="37.5" fill="#0f4d92"/>
<rect x="1386.8" y="2161.6" width="2.0" height="37.2" fill="#0f4d92"/>
<rect x="1386.8" y="2198.8" width="2.0" height="36.4" fill="#0f4d92"/>
<rect x="1386.8" y="2235.2" width="2.0" height="36.8" fill="#0f4d92"/>
<rect x="1386.8" y="2272.0" width="2.0" height="37.1" fill="#0f4d92"/>
<rect x="1386.8" y="2309.1" width="2.0" height="36.9" fill="#0f4d92"/>
<rect x="1386.8" y="1656.2" width="2.0" height="99.2" fill="#0f4d92"/>
<rect x="1632.5" y="1583.3" width="2.2" height="71.9" fill="#fff"/>
<rect x="1632.6" y="1755.4" width="2.0" height="36.8" fill="#0f4d92"/>
<rect x="1632.6" y="1792.2" width="2.0" height="36.8" fill="#0f4d92"/>
<rect x="1632.6" y="1866.2" width="2.0" height="37.1" fill="#0f4d92"/>
<rect x="1632.6" y="1903.3" width="2.0" height="37.0" fill="#0f4d92"/>
<rect x="1632.6" y="1940.3" width="2.0" height="36.2" fill="#0f4d92"/>
<rect x="1632.6" y="1976.5" width="2.0" height="37.3" fill="#0f4d92"/>
<rect x="1632.6" y="2013.8" width="2.0" height="37.1" fill="#0f4d92"/>
<rect x="1632.6" y="2050.9" width="2.0" height="36.3" fill="#0f4d92"/>
<rect x="1632.6" y="2087.2" width="2.0" height="36.9" fill="#0f4d92"/>
<rect x="1632.6" y="2124.1" width="2.0" height="37.5" fill="#0f4d92"/>
<rect x="1632.6" y="2161.6" width="2.0" height="37.2" fill="#0f4d92"/>
<rect x="1632.6" y="2198.8" width="2.0" height="36.4" fill="#0f4d92"/>
<rect x="1632.6" y="2235.2" width="2.0" height="36.8" fill="#0f4d92"/>
<rect x="1632.6" y="2272.0" width="2.0" height="37.1" fill="#0f4d92"/>
<rect x="1632.6" y="2309.1" width="2.0" height="36.9" fill="#0f4d92"/>
<rect x="1632.6" y="1656.2" width="2.0" height="99.2" fill="#0f4d92"/>
<rect x="1877.5" y="1583.3" width="2.2" height="71.9" fill="#fff"/>
<rect x="1877.6" y="1755.4" width="2.0" height="36.8" fill="#0f4d92"/>
<rect x="1877.6" y="1792.2" width="2.0" height="36.8" fill="#0f4d92"/>
<rect x="1877.6" y="1866.2" width="2.0" height="37.1" fill="#0f4d92"/>
<rect x="1877.6" y="1903.3" width="2.0" height="37.0" fill="#0f4d92"/>
<rect x="1877.6" y="1940.3" width="2.0" height="36.2" fill="#0f4d92"/>
<rect x="1877.6" y="1976.5" width="2.0" height="37.3" fill="#0f4d92"/>
<rect x="1877.6" y="2013.8" width="2.0" height="37.1" fill="#0f4d92"/>
<rect x="1877.6" y="2050.9" width="2.0" height="36.3" fill="#0f4d92"/>
<rect x="1877.6" y="2087.2" width="2.0" height="36.9" fill="#0f4d92"/>
<rect x="1877.6" y="2124.1" width="2.0" height="37.5" fill="#0f4d92"/>
<rect x="1877.6" y="2161.6" width="2.0" height="37.2" fill="#0f4d92"/>
<rect x="1877.6" y="2198.8" width="2.0" height="36.4" fill="#0f4d92"/>
<rect x="1877.6" y="2235.2" width="2.0" height="36.8" fill="#0f4d92"/>
<rect x="1877.6" y="2272.0" width="2.0" height="37.1" fill="#0f4d92"/>
<rect x="1877.6" y="2309.1" width="2.0" height="36.9" fill="#0f4d92"/>
<rect x="1877.6" y="1656.2" width="2.0" height="99.2" fill="#0f4d92"/>
<rect x="2123.1" y="1581.3" width="2.0" height="764.7" fill="#0f4d92"/>
<rect x="2121.8" y="1583.3" width="1.4" height="760.7" fill="#fff"/>
</svg>
<div class="t ttl" style="left:42.5px;top:22.5px;height:60px;line-height:60px;text-align:left;width:1000px">立柜式恒温型直膨机——回风工况</div>
<div class="t cl" style="left:244.5px;top:113.4px;width:400px;height:40px;line-height:40px;">室内机型号</div>
<div class="t cl" style="left:244.5px;top:149.7px;width:400px;height:40px;line-height:40px;">对应室外机型号</div>
<div class="t h1" style="left:585.6px;top:111.6px;width:400px;height:40px;line-height:40px;"><span class="cx" style="transform:scaleX(0.72)">CRF-160C/LA</span></div>
<div class="t h2" style="left:583.6px;top:150.9px;width:400px;height:40px;line-height:40px;"><span class="cx" style="transform:scaleX(0.762)">CRF-160W/SN1</span></div>
<div class="t h1" style="left:823.5px;top:111.6px;width:400px;height:40px;line-height:40px;"><span class="cx" style="transform:scaleX(0.72)">CRF-250C/LA</span></div>
<div class="t h2" style="left:821.5px;top:150.9px;width:400px;height:40px;line-height:40px;"><span class="cx" style="transform:scaleX(0.762)">CRF-250W/SN1</span></div>
<div class="t h1" style="left:1069.5px;top:111.6px;width:400px;height:40px;line-height:40px;"><span class="cx" style="transform:scaleX(0.72)">CRF-280C/LA</span></div>
<div class="t h2" style="left:1067.8px;top:150.9px;width:400px;height:40px;line-height:40px;"><span class="cx" style="transform:scaleX(0.762)">CRF-280W/SN1</span></div>
<div class="t h1" style="left:1315.4px;top:111.6px;width:400px;height:40px;line-height:40px;"><span class="cx" style="transform:scaleX(0.72)">CRF-315C/LA</span></div>
<div class="t h2" style="left:1313.7px;top:150.9px;width:400px;height:40px;line-height:40px;"><span class="cx" style="transform:scaleX(0.762)">CRF-315W/SN1</span></div>
<div class="t h1" style="left:1561.4px;top:111.6px;width:400px;height:40px;line-height:40px;"><span class="cx" style="transform:scaleX(0.72)">CRF-400C/LA</span></div>
<div class="t h2" style="left:1559.5px;top:150.9px;width:400px;height:40px;line-height:40px;"><span class="cx" style="transform:scaleX(0.762)">CRF-400W/SN1</span></div>
<div class="t h1" style="left:1807.5px;top:111.6px;width:400px;height:40px;line-height:40px;"><span class="cx" style="transform:scaleX(0.72)">CRF-450C/LA</span></div>
<div class="t h2" style="left:1805.5px;top:150.9px;width:400px;height:40px;line-height:40px;"><span class="cx" style="transform:scaleX(0.762)">CRF-450W/SN1</span></div>
<div class="t cl" style="left:188.0px;top:189.5px;width:400px;height:40px;line-height:40px;">制冷量</div>
<div class="t u" style="left:395.7px;top:188.6px;width:400px;height:40px;line-height:40px;">kW</div>
<div class="t d" style="left:578.0px;top:191.0px;width:400px;height:40px;line-height:40px;">16</div>
<div class="t d" style="left:816.0px;top:191.0px;width:400px;height:40px;line-height:40px;">25</div>
<div class="t d" style="left:1063.5px;top:191.0px;width:400px;height:40px;line-height:40px;">28</div>
<div class="t d" style="left:1309.5px;top:191.0px;width:400px;height:40px;line-height:40px;">31.5</div>
<div class="t d" style="left:1552.5px;top:191.0px;width:400px;height:40px;line-height:40px;">40</div>
<div class="t d" style="left:1803.0px;top:191.0px;width:400px;height:40px;line-height:40px;">45</div>
<div class="t cl" style="left:188.0px;top:225.9px;width:400px;height:40px;line-height:40px;">制热量</div>
<div class="t u" style="left:395.7px;top:225.0px;width:400px;height:40px;line-height:40px;">kW</div>
<div class="t d" style="left:578.0px;top:224.6px;width:400px;height:40px;line-height:40px;">12</div>
<div class="t d" style="left:816.0px;top:224.6px;width:400px;height:40px;line-height:40px;">18.7</div>
<div class="t d" style="left:1063.5px;top:224.6px;width:400px;height:40px;line-height:40px;">21</div>
<div class="t d" style="left:1309.5px;top:224.6px;width:400px;height:40px;line-height:40px;">23.6</div>
<div class="t d" style="left:1552.5px;top:224.6px;width:400px;height:40px;line-height:40px;">30</div>
<div class="t d" style="left:1803.0px;top:224.6px;width:400px;height:40px;line-height:40px;">35.8</div>
<div class="t cl" style="left:244.5px;top:263.7px;width:400px;height:40px;line-height:40px;">电源</div>
<div class="t d" style="left:1190.5px;top:261.5px;width:400px;height:40px;line-height:40px;">380V 3N ~50Hz</div>
<div class="t cl" style="left:188.0px;top:299.6px;width:400px;height:40px;line-height:40px;">名义风量</div>
<div class="t u" style="left:395.7px;top:298.0px;width:400px;height:40px;line-height:40px;">m<sup>3</sup>/h</div>
<div class="t d" style="left:578.0px;top:299.2px;width:400px;height:40px;line-height:40px;">3200</div>
<div class="t d" style="left:816.0px;top:299.2px;width:400px;height:40px;line-height:40px;">5200</div>
<div class="t d" style="left:1063.5px;top:299.2px;width:400px;height:40px;line-height:40px;">5900</div>
<div class="t d" style="left:1309.5px;top:299.2px;width:400px;height:40px;line-height:40px;">6600</div>
<div class="t d" style="left:1552.5px;top:299.2px;width:400px;height:40px;line-height:40px;">8350</div>
<div class="t d" style="left:1803.0px;top:299.2px;width:400px;height:40px;line-height:40px;">9450</div>
<div class="t cl" style="left:188.0px;top:338.1px;width:400px;height:40px;line-height:40px;">机外余压</div>
<div class="t u" style="left:395.7px;top:338.0px;width:400px;height:40px;line-height:40px;">Pa</div>
<div class="t d" style="left:578.0px;top:336.1px;width:400px;height:40px;line-height:40px;">100</div>
<div class="t d" style="left:816.0px;top:336.1px;width:400px;height:40px;line-height:40px;">150</div>
<div class="t d" style="left:1063.5px;top:336.1px;width:400px;height:40px;line-height:40px;">200</div>
<div class="t d" style="left:1309.5px;top:336.1px;width:400px;height:40px;line-height:40px;">200</div>
<div class="t d" style="left:1552.5px;top:336.1px;width:400px;height:40px;line-height:40px;">200</div>
<div class="t d" style="left:1803.0px;top:336.1px;width:400px;height:40px;line-height:40px;">200</div>
<div class="t cl" style="left:282.9px;top:375.1px;width:400px;height:40px;line-height:40px;">高</div>
<div class="t u" style="left:395.7px;top:369.9px;width:400px;height:40px;line-height:40px;">mm</div>
<div class="t d" style="left:578.0px;top:372.3px;width:400px;height:40px;line-height:40px;">1320</div>
<div class="t d" style="left:816.0px;top:372.3px;width:400px;height:40px;line-height:40px;">1738</div>
<div class="t d" style="left:1063.5px;top:372.3px;width:400px;height:40px;line-height:40px;">1738</div>
<div class="t d" style="left:1309.5px;top:372.3px;width:400px;height:40px;line-height:40px;">1738</div>
<div class="t d" style="left:1552.5px;top:372.3px;width:400px;height:40px;line-height:40px;">1738</div>
<div class="t d" style="left:1803.0px;top:372.3px;width:400px;height:40px;line-height:40px;">1868</div>
<div class="t cl" style="left:282.9px;top:411.9px;width:400px;height:40px;line-height:40px;">宽</div>
<div class="t u" style="left:395.7px;top:405.9px;width:400px;height:40px;line-height:40px;">mm</div>
<div class="t d" style="left:578.0px;top:410.2px;width:400px;height:40px;line-height:40px;">900</div>
<div class="t d" style="left:816.0px;top:410.2px;width:400px;height:40px;line-height:40px;">900</div>
<div class="t d" style="left:1063.5px;top:410.2px;width:400px;height:40px;line-height:40px;">950</div>
<div class="t d" style="left:1309.5px;top:410.2px;width:400px;height:40px;line-height:40px;">1050</div>
<div class="t d" style="left:1552.5px;top:410.2px;width:400px;height:40px;line-height:40px;">1250</div>
<div class="t d" style="left:1803.0px;top:410.2px;width:400px;height:40px;line-height:40px;">1350</div>
<div class="t cl" style="left:282.9px;top:447.9px;width:400px;height:40px;line-height:40px;">深</div>
<div class="t u" style="left:395.7px;top:444.9px;width:400px;height:40px;line-height:40px;">mm</div>
<div class="t d" style="left:578.0px;top:447.1px;width:400px;height:40px;line-height:40px;">550</div>
<div class="t d" style="left:816.0px;top:447.1px;width:400px;height:40px;line-height:40px;">550</div>
<div class="t d" style="left:1063.5px;top:447.1px;width:400px;height:40px;line-height:40px;">550</div>
<div class="t d" style="left:1309.5px;top:447.1px;width:400px;height:40px;line-height:40px;">550</div>
<div class="t d" style="left:1552.5px;top:447.1px;width:400px;height:40px;line-height:40px;">700</div>
<div class="t d" style="left:1803.0px;top:447.1px;width:400px;height:40px;line-height:40px;">700</div>
<div class="t cl" style="left:282.9px;top:483.9px;width:400px;height:40px;line-height:40px;">液管</div>
<div class="t u" style="left:395.7px;top:482.5px;width:400px;height:40px;line-height:40px;">mm</div>
<div class="t d" style="left:578.0px;top:481.9px;width:400px;height:40px;line-height:40px;">9.52</div>
<div class="t d" style="left:816.0px;top:481.9px;width:400px;height:40px;line-height:40px;">12.7</div>
<div class="t d" style="left:1063.5px;top:481.9px;width:400px;height:40px;line-height:40px;">12.7</div>
<div class="t d" style="left:1309.5px;top:481.9px;width:400px;height:40px;line-height:40px;">12.7</div>
<div class="t d" style="left:1552.5px;top:481.9px;width:400px;height:40px;line-height:40px;">15.88</div>
<div class="t d" style="left:1803.0px;top:481.9px;width:400px;height:40px;line-height:40px;">15.88</div>
<div class="t cl" style="left:282.9px;top:521.9px;width:400px;height:40px;line-height:40px;">气管</div>
<div class="t u" style="left:395.7px;top:519.8px;width:400px;height:40px;line-height:40px;">mm</div>
<div class="t d" style="left:578.0px;top:523.2px;width:400px;height:40px;line-height:40px;">19.05</div>
<div class="t d" style="left:816.0px;top:523.2px;width:400px;height:40px;line-height:40px;">22.2</div>
<div class="t d" style="left:1063.5px;top:523.2px;width:400px;height:40px;line-height:40px;">25.4</div>
<div class="t d" style="left:1309.5px;top:523.2px;width:400px;height:40px;line-height:40px;">25.4</div>
<div class="t d" style="left:1552.5px;top:523.2px;width:400px;height:40px;line-height:40px;">28.6</div>
<div class="t d" style="left:1803.0px;top:523.2px;width:400px;height:40px;line-height:40px;">28.6</div>
<div class="t cl" style="left:282.9px;top:556.2px;width:400px;height:40px;line-height:40px;">宽</div>
<div class="t u" style="left:395.7px;top:554.8px;width:400px;height:40px;line-height:40px;">mm</div>
<div class="t d" style="left:578.0px;top:559.1px;width:400px;height:40px;line-height:40px;">550</div>
<div class="t d" style="left:816.0px;top:559.1px;width:400px;height:40px;line-height:40px;">800</div>
<div class="t d" style="left:1063.5px;top:559.1px;width:400px;height:40px;line-height:40px;">800</div>
<div class="t d" style="left:1309.5px;top:559.1px;width:400px;height:40px;line-height:40px;">800</div>
<div class="t d" style="left:1552.5px;top:559.1px;width:400px;height:40px;line-height:40px;">1100</div>
<div class="t d" style="left:1803.0px;top:559.1px;width:400px;height:40px;line-height:40px;">1100</div>
<div class="t cl" style="left:282.9px;top:594.3px;width:400px;height:40px;line-height:40px;">高</div>
<div class="t u" style="left:395.7px;top:592.9px;width:400px;height:40px;line-height:40px;">mm</div>
<div class="t d" style="left:578.0px;top:595.3px;width:400px;height:40px;line-height:40px;">350</div>
<div class="t d" style="left:816.0px;top:595.3px;width:400px;height:40px;line-height:40px;">350</div>
<div class="t d" style="left:1063.5px;top:595.3px;width:400px;height:40px;line-height:40px;">350</div>
<div class="t d" style="left:1309.5px;top:595.3px;width:400px;height:40px;line-height:40px;">450</div>
<div class="t d" style="left:1552.5px;top:595.3px;width:400px;height:40px;line-height:40px;">450</div>
<div class="t d" style="left:1803.0px;top:595.3px;width:400px;height:40px;line-height:40px;">450</div>
<div class="t cl" style="left:188.0px;top:632.2px;width:400px;height:40px;line-height:40px;">风机功率</div>
<div class="t u" style="left:394.5px;top:630.5px;width:400px;height:40px;line-height:40px;">kW</div>
<div class="t d" style="left:578.0px;top:633.2px;width:400px;height:40px;line-height:40px;">0.65</div>
<div class="t d" style="left:816.0px;top:633.2px;width:400px;height:40px;line-height:40px;">1.1</div>
<div class="t d" style="left:1063.5px;top:633.2px;width:400px;height:40px;line-height:40px;">1.5</div>
<div class="t d" style="left:1309.5px;top:633.2px;width:400px;height:40px;line-height:40px;">1.8</div>
<div class="t d" style="left:1552.5px;top:633.2px;width:400px;height:40px;line-height:40px;">2.8</div>
<div class="t d" style="left:1803.0px;top:633.2px;width:400px;height:40px;line-height:40px;">3.5</div>
<div class="t cl" style="left:188.0px;top:670.2px;width:400px;height:40px;line-height:40px;">噪音</div>
<div class="t u" style="left:394.5px;top:665.9px;width:400px;height:40px;line-height:40px;">dB(A)</div>
<div class="t d" style="left:578.0px;top:667.4px;width:400px;height:40px;line-height:40px;">46</div>
<div class="t d" style="left:816.0px;top:667.4px;width:400px;height:40px;line-height:40px;">53</div>
<div class="t d" style="left:1063.5px;top:667.4px;width:400px;height:40px;line-height:40px;">54</div>
<div class="t d" style="left:1309.5px;top:667.4px;width:400px;height:40px;line-height:40px;">55</div>
<div class="t d" style="left:1552.5px;top:667.4px;width:400px;height:40px;line-height:40px;">57</div>
<div class="t d" style="left:1803.0px;top:667.4px;width:400px;height:40px;line-height:40px;">58</div>
<div class="t cl" style="left:188.0px;top:705.7px;width:400px;height:40px;line-height:40px;">冷凝水管</div>
<div class="t u" style="left:395.7px;top:702.0px;width:400px;height:40px;line-height:40px;">mm</div>
<div class="t d" style="left:578.0px;top:705.6px;width:400px;height:40px;line-height:40px;">DN25</div>
<div class="t d" style="left:816.0px;top:705.6px;width:400px;height:40px;line-height:40px;">DN25</div>
<div class="t d" style="left:1063.5px;top:705.6px;width:400px;height:40px;line-height:40px;">DN25</div>
<div class="t d" style="left:1309.5px;top:705.6px;width:400px;height:40px;line-height:40px;">DN25</div>
<div class="t d" style="left:1552.5px;top:705.6px;width:400px;height:40px;line-height:40px;">DN25</div>
<div class="t d" style="left:1803.0px;top:705.6px;width:400px;height:40px;line-height:40px;">DN25</div>
<div class="t cl" style="left:188.0px;top:742.9px;width:400px;height:40px;line-height:40px;">重量</div>
<div class="t u" style="left:395.7px;top:741.6px;width:400px;height:40px;line-height:40px;">kg</div>
<div class="t d" style="left:578.0px;top:742.6px;width:400px;height:40px;line-height:40px;">140</div>
<div class="t d" style="left:816.0px;top:742.6px;width:400px;height:40px;line-height:40px;">180</div>
<div class="t d" style="left:1063.5px;top:742.6px;width:400px;height:40px;line-height:40px;">195</div>
<div class="t d" style="left:1309.5px;top:742.6px;width:400px;height:40px;line-height:40px;">200</div>
<div class="t d" style="left:1552.5px;top:742.6px;width:400px;height:40px;line-height:40px;">205</div>
<div class="t d" style="left:1803.0px;top:742.6px;width:400px;height:40px;line-height:40px;">220</div>
<div class="t cl" style="left:135.0px;top:412.2px;width:400px;height:40px;line-height:40px;">内机尺寸</div>
<div class="t cl" style="left:135.0px;top:502.9px;width:400px;height:40px;line-height:40px;">接管尺寸</div>
<div class="t cl" style="left:135.0px;top:575.1px;width:400px;height:40px;line-height:40px;">回风法兰尺寸</div>
<div class="t sd" style="left:82.8px;top:372.4px;width:60px;height:50px;line-height:50px;">室</div>
<div class="t sd" style="left:82.8px;top:422.0px;width:60px;height:50px;line-height:50px;">内</div>
<div class="t sd" style="left:82.8px;top:472.0px;width:60px;height:50px;line-height:50px;">机</div>
<div class="t cl" style="left:241.0px;top:803.0px;width:400px;height:40px;line-height:40px;">室内机型号</div>
<div class="t cl" style="left:241.0px;top:839.3px;width:400px;height:40px;line-height:40px;">对应室外机型号</div>
<div class="t h1" style="left:590.4px;top:801.3px;width:400px;height:40px;line-height:40px;"><span class="cx" style="transform:scaleX(0.72)">CRF-500C/LA</span></div>
<div class="t h2" style="left:590.6px;top:838.8px;width:400px;height:40px;line-height:40px;"><span class="cx" style="transform:scaleX(0.762)">CRF-500W/SN1</span></div>
<div class="t h1" style="left:883.7px;top:801.3px;width:400px;height:40px;line-height:40px;"><span class="cx" style="transform:scaleX(0.72)">CRF-560C/LA</span></div>
<div class="t h2" style="left:884.4px;top:838.8px;width:400px;height:40px;line-height:40px;"><span class="cx" style="transform:scaleX(0.762)">CRF-560W/SN1</span></div>
<div class="t h1" style="left:1178.2px;top:801.3px;width:400px;height:40px;line-height:40px;"><span class="cx" style="transform:scaleX(0.72)">CRF-630C/LA</span></div>
<div class="t h2" style="left:1178.9px;top:838.8px;width:400px;height:40px;line-height:40px;"><span class="cx" style="transform:scaleX(0.762)">CRF-630W/SN1</span></div>
<div class="t h1" style="left:1487.9px;top:801.3px;width:400px;height:40px;line-height:40px;"><span class="cx" style="transform:scaleX(0.72)">CRF-715C/LA</span></div>
<div class="t h2" style="left:1487.2px;top:838.8px;width:400px;height:40px;line-height:40px;"><span class="cx" style="transform:scaleX(0.762)">CRF-715W/SN1</span></div>
<div class="t h1" style="left:1780.3px;top:801.3px;width:400px;height:40px;line-height:40px;"><span class="cx" style="transform:scaleX(0.72)">CRF-815C/LA</span></div>
<div class="t h2" style="left:1779.5px;top:838.8px;width:400px;height:40px;line-height:40px;"><span class="cx" style="transform:scaleX(0.762)">CRF-815W/SN1</span></div>
<div class="t cl" style="left:241.0px;top:905.5px;width:400px;height:40px;line-height:40px;">室外机组合方式</div>
<div class="t cb" style="left:590.1px;top:874.6px;width:400px;height:100px;"><span class="cbi" style="text-align:left;line-height:30px">CRF-500W/SN1</span></div>
<div class="t cb" style="left:893.0px;top:874.6px;width:400px;height:100px;"><span class="cbi" style="text-align:left;line-height:30px">2<span class="ast">∗</span>CRF-280W/SN1</span></div>
<div class="t cb" style="left:1174.2px;top:874.6px;width:400px;height:100px;"><span class="cbi" style="text-align:left;line-height:30px">2<span class="ast">∗</span>CRF-315W/SN1</span></div>
<div class="t cb" style="left:1491.0px;top:874.6px;width:400px;height:100px;"><span class="cbi" style="text-align:left;line-height:30px">CRF-315W/SN1+<br>CRF-400W/SN1</span></div>
<div class="t cb" style="left:1786.2px;top:874.6px;width:400px;height:100px;"><span class="cbi" style="text-align:left;line-height:30px">CRF-315W/SN1+<br>CRF-500W/SN1</span></div>
<div class="t cl" style="left:187.5px;top:969.6px;width:400px;height:40px;line-height:40px;">制冷量</div>
<div class="t u" style="left:395.5px;top:968.7px;width:400px;height:40px;line-height:40px;">kW</div>
<div class="t d" style="left:589.0px;top:970.6px;width:400px;height:40px;line-height:40px;">50</div>
<div class="t d" style="left:882.0px;top:970.6px;width:400px;height:40px;line-height:40px;">56</div>
<div class="t d" style="left:1176.6px;top:970.6px;width:400px;height:40px;line-height:40px;">63</div>
<div class="t d" style="left:1486.7px;top:970.6px;width:400px;height:40px;line-height:40px;">71.5</div>
<div class="t d" style="left:1778.8px;top:970.6px;width:400px;height:40px;line-height:40px;">81.5</div>
<div class="t cl" style="left:187.5px;top:1007.0px;width:400px;height:40px;line-height:40px;">制热量</div>
<div class="t u" style="left:395.5px;top:1006.1px;width:400px;height:40px;line-height:40px;">kW</div>
<div class="t d" style="left:589.0px;top:1005.2px;width:400px;height:40px;line-height:40px;">39.8</div>
<div class="t d" style="left:882.0px;top:1005.2px;width:400px;height:40px;line-height:40px;">42</div>
<div class="t d" style="left:1176.6px;top:1005.2px;width:400px;height:40px;line-height:40px;">47.2</div>
<div class="t d" style="left:1486.7px;top:1005.2px;width:400px;height:40px;line-height:40px;">53.6</div>
<div class="t d" style="left:1778.8px;top:1005.2px;width:400px;height:40px;line-height:40px;">63.4</div>
<div class="t cl" style="left:241.0px;top:1043.7px;width:400px;height:40px;line-height:40px;">电源</div>
<div class="t d" style="left:1176.6px;top:1042.6px;width:400px;height:40px;line-height:40px;">380V 3N ~50Hz</div>
<div class="t cl" style="left:187.5px;top:1080.7px;width:400px;height:40px;line-height:40px;">名义风量</div>
<div class="t u" style="left:395.5px;top:1079.6px;width:400px;height:40px;line-height:40px;">m<sup>3</sup>/h</div>
<div class="t d" style="left:589.0px;top:1078.2px;width:400px;height:40px;line-height:40px;">10600</div>
<div class="t d" style="left:882.0px;top:1078.2px;width:400px;height:40px;line-height:40px;">11700</div>
<div class="t d" style="left:1176.6px;top:1078.2px;width:400px;height:40px;line-height:40px;">13300</div>
<div class="t d" style="left:1486.7px;top:1078.2px;width:400px;height:40px;line-height:40px;">15000</div>
<div class="t d" style="left:1778.8px;top:1078.2px;width:400px;height:40px;line-height:40px;">17000</div>
<div class="t cl" style="left:187.5px;top:1118.7px;width:400px;height:40px;line-height:40px;">机外余压</div>
<div class="t u" style="left:395.5px;top:1118.5px;width:400px;height:40px;line-height:40px;">Pa</div>
<div class="t d" style="left:589.0px;top:1117.0px;width:400px;height:40px;line-height:40px;">250</div>
<div class="t d" style="left:882.0px;top:1114.8px;width:400px;height:40px;line-height:40px;">250</div>
<div class="t d" style="left:1176.6px;top:1114.8px;width:400px;height:40px;line-height:40px;">250</div>
<div class="t d" style="left:1486.7px;top:1114.8px;width:400px;height:40px;line-height:40px;">250</div>
<div class="t d" style="left:1778.8px;top:1114.8px;width:400px;height:40px;line-height:40px;">300</div>
<div class="t cl" style="left:285.5px;top:1156.9px;width:400px;height:40px;line-height:40px;">高</div>
<div class="t u" style="left:395.5px;top:1152.8px;width:400px;height:40px;line-height:40px;">mm</div>
<div class="t d" style="left:589.0px;top:1153.3px;width:400px;height:40px;line-height:40px;">1868</div>
<div class="t d" style="left:882.0px;top:1153.3px;width:400px;height:40px;line-height:40px;">1868</div>
<div class="t d" style="left:1176.6px;top:1153.3px;width:400px;height:40px;line-height:40px;">1988</div>
<div class="t d" style="left:1486.7px;top:1153.3px;width:400px;height:40px;line-height:40px;">1988</div>
<div class="t d" style="left:1778.8px;top:1153.3px;width:400px;height:40px;line-height:40px;">2038</div>
<div class="t cl" style="left:285.5px;top:1193.6px;width:400px;height:40px;line-height:40px;">宽</div>
<div class="t u" style="left:395.5px;top:1188.8px;width:400px;height:40px;line-height:40px;">mm</div>
<div class="t d" style="left:589.0px;top:1190.4px;width:400px;height:40px;line-height:40px;">1450</div>
<div class="t d" style="left:882.0px;top:1190.4px;width:400px;height:40px;line-height:40px;">1550</div>
<div class="t d" style="left:1176.6px;top:1190.4px;width:400px;height:40px;line-height:40px;">1750</div>
<div class="t d" style="left:1486.7px;top:1190.4px;width:400px;height:40px;line-height:40px;">1900</div>
<div class="t d" style="left:1778.8px;top:1190.4px;width:400px;height:40px;line-height:40px;">2100</div>
<div class="t cl" style="left:285.5px;top:1230.4px;width:400px;height:40px;line-height:40px;">深</div>
<div class="t u" style="left:395.5px;top:1227.8px;width:400px;height:40px;line-height:40px;">mm</div>
<div class="t d" style="left:589.0px;top:1228.2px;width:400px;height:40px;line-height:40px;">700</div>
<div class="t d" style="left:882.0px;top:1228.2px;width:400px;height:40px;line-height:40px;">700</div>
<div class="t d" style="left:1176.6px;top:1228.2px;width:400px;height:40px;line-height:40px;">900</div>
<div class="t d" style="left:1486.7px;top:1228.2px;width:400px;height:40px;line-height:40px;">900</div>
<div class="t d" style="left:1778.8px;top:1228.2px;width:400px;height:40px;line-height:40px;">900</div>
<div class="t cl" style="left:285.5px;top:1266.8px;width:400px;height:40px;line-height:40px;">液管</div>
<div class="t u" style="left:395.5px;top:1262.4px;width:400px;height:40px;line-height:40px;">mm</div>
<div class="t d" style="left:589.0px;top:1264.0px;width:400px;height:40px;line-height:40px;">15.88</div>
<div class="t d" style="left:882.0px;top:1264.0px;width:400px;height:40px;line-height:40px;">15.88</div>
<div class="t d" style="left:1176.6px;top:1264.0px;width:400px;height:40px;line-height:40px;">15.88</div>
<div class="t d" style="left:1486.7px;top:1264.0px;width:400px;height:40px;line-height:40px;">19.05</div>
<div class="t d" style="left:1778.8px;top:1264.0px;width:400px;height:40px;line-height:40px;">19.05</div>
<div class="t cl" style="left:285.5px;top:1301.1px;width:400px;height:40px;line-height:40px;">气管</div>
<div class="t u" style="left:395.5px;top:1299.7px;width:400px;height:40px;line-height:40px;">mm</div>
<div class="t d" style="left:589.0px;top:1300.2px;width:400px;height:40px;line-height:40px;">28.6</div>
<div class="t d" style="left:882.0px;top:1300.2px;width:400px;height:40px;line-height:40px;">28.6</div>
<div class="t d" style="left:1176.6px;top:1300.2px;width:400px;height:40px;line-height:40px;">28.6</div>
<div class="t d" style="left:1486.7px;top:1300.2px;width:400px;height:40px;line-height:40px;">31.8</div>
<div class="t d" style="left:1778.8px;top:1300.2px;width:400px;height:40px;line-height:40px;">31.8</div>
<div class="t cl" style="left:283.1px;top:1337.3px;width:400px;height:40px;line-height:40px;">宽</div>
<div class="t u" style="left:395.5px;top:1336.2px;width:400px;height:40px;line-height:40px;">mm</div>
<div class="t d" style="left:589.0px;top:1339.8px;width:400px;height:40px;line-height:40px;">1100</div>
<div class="t d" style="left:882.0px;top:1339.8px;width:400px;height:40px;line-height:40px;">1100</div>
<div class="t d" style="left:1176.6px;top:1339.8px;width:400px;height:40px;line-height:40px;">1100</div>
<div class="t d" style="left:1486.7px;top:1339.8px;width:400px;height:40px;line-height:40px;">1100</div>
<div class="t d" style="left:1778.8px;top:1339.8px;width:400px;height:40px;line-height:40px;">1100</div>
<div class="t cl" style="left:283.1px;top:1374.3px;width:400px;height:40px;line-height:40px;">高</div>
<div class="t u" style="left:395.5px;top:1373.7px;width:400px;height:40px;line-height:40px;">mm</div>
<div class="t d" style="left:589.0px;top:1375.3px;width:400px;height:40px;line-height:40px;">600</div>
<div class="t d" style="left:882.0px;top:1375.3px;width:400px;height:40px;line-height:40px;">600</div>
<div class="t d" style="left:1176.6px;top:1375.3px;width:400px;height:40px;line-height:40px;">600</div>
<div class="t d" style="left:1486.7px;top:1375.3px;width:400px;height:40px;line-height:40px;">800</div>
<div class="t d" style="left:1778.8px;top:1375.3px;width:400px;height:40px;line-height:40px;">800</div>
<div class="t cl" style="left:187.5px;top:1412.6px;width:400px;height:40px;line-height:40px;">风机功率</div>
<div class="t u" style="left:394.3px;top:1411.3px;width:400px;height:40px;line-height:40px;">kW</div>
<div class="t d" style="left:589.0px;top:1409.8px;width:400px;height:40px;line-height:40px;">3.5</div>
<div class="t d" style="left:882.0px;top:1409.8px;width:400px;height:40px;line-height:40px;">4.5</div>
<div class="t d" style="left:1176.6px;top:1409.8px;width:400px;height:40px;line-height:40px;">4.5</div>
<div class="t d" style="left:1486.7px;top:1409.8px;width:400px;height:40px;line-height:40px;">5.5</div>
<div class="t d" style="left:1778.8px;top:1409.8px;width:400px;height:40px;line-height:40px;">5.5</div>
<div class="t cl" style="left:187.5px;top:1447.5px;width:400px;height:40px;line-height:40px;">噪音</div>
<div class="t u" style="left:394.3px;top:1446.0px;width:400px;height:40px;line-height:40px;">dB(A)</div>
<div class="t d" style="left:589.0px;top:1449.0px;width:400px;height:40px;line-height:40px;">60</div>
<div class="t d" style="left:882.0px;top:1449.0px;width:400px;height:40px;line-height:40px;">62</div>
<div class="t d" style="left:1176.6px;top:1449.0px;width:400px;height:40px;line-height:40px;">63</div>
<div class="t d" style="left:1486.7px;top:1449.0px;width:400px;height:40px;line-height:40px;">67</div>
<div class="t d" style="left:1778.8px;top:1449.0px;width:400px;height:40px;line-height:40px;">71</div>
<div class="t cl" style="left:187.5px;top:1483.9px;width:400px;height:40px;line-height:40px;">冷凝水管</div>
<div class="t u" style="left:395.5px;top:1483.3px;width:400px;height:40px;line-height:40px;">mm</div>
<div class="t d" style="left:589.0px;top:1483.8px;width:400px;height:40px;line-height:40px;">DN25</div>
<div class="t d" style="left:882.0px;top:1483.8px;width:400px;height:40px;line-height:40px;">DN25</div>
<div class="t d" style="left:1176.6px;top:1483.8px;width:400px;height:40px;line-height:40px;">DN25</div>
<div class="t d" style="left:1486.7px;top:1483.8px;width:400px;height:40px;line-height:40px;">DN32</div>
<div class="t d" style="left:1778.8px;top:1483.8px;width:400px;height:40px;line-height:40px;">DN32</div>
<div class="t cl" style="left:187.5px;top:1521.8px;width:400px;height:40px;line-height:40px;">重量</div>
<div class="t u" style="left:395.5px;top:1520.7px;width:400px;height:40px;line-height:40px;">kg</div>
<div class="t d" style="left:589.0px;top:1519.7px;width:400px;height:40px;line-height:40px;">250</div>
<div class="t d" style="left:882.0px;top:1519.7px;width:400px;height:40px;line-height:40px;">270</div>
<div class="t d" style="left:1176.6px;top:1519.7px;width:400px;height:40px;line-height:40px;">290</div>
<div class="t d" style="left:1486.7px;top:1519.7px;width:400px;height:40px;line-height:40px;">330</div>
<div class="t d" style="left:1778.8px;top:1519.7px;width:400px;height:40px;line-height:40px;">360</div>
<div class="t cl" style="left:135.3px;top:1192.9px;width:400px;height:40px;line-height:40px;">内机尺寸</div>
<div class="t cl" style="left:135.3px;top:1280.9px;width:400px;height:40px;line-height:40px;">接管尺寸</div>
<div class="t cl" style="left:135.3px;top:1355.0px;width:400px;height:40px;line-height:40px;">回风法兰尺寸</div>
<div class="t sd" style="left:81.5px;top:1105.0px;width:60px;height:50px;line-height:50px;">室</div>
<div class="t sd" style="left:81.5px;top:1155.0px;width:60px;height:50px;line-height:50px;">内</div>
<div class="t sd" style="left:81.5px;top:1205.0px;width:60px;height:50px;line-height:50px;">机</div>
<div class="t cl" style="left:245.5px;top:1582.8px;width:400px;height:40px;line-height:40px;">室内机型号</div>
<div class="t cl" style="left:245.5px;top:1618.3px;width:400px;height:40px;line-height:40px;">对应室外机型号</div>
<div class="t h1" style="left:579.7px;top:1580.0px;width:400px;height:40px;line-height:40px;"><span class="cx" style="transform:scaleX(0.72)">CRF-900C/LA</span></div>
<div class="t h2" style="left:578.6px;top:1619.2px;width:400px;height:40px;line-height:40px;"><span class="cx" style="transform:scaleX(0.762)">CRF-900W/SN1</span></div>
<div class="t h1" style="left:823.3px;top:1580.0px;width:400px;height:40px;line-height:40px;"><span class="cx" style="transform:scaleX(0.72)">CRF-1000C/LA</span></div>
<div class="t h2" style="left:823.5px;top:1619.2px;width:400px;height:40px;line-height:40px;"><span class="cx" style="transform:scaleX(0.762)">CRF-1000W/SN1</span></div>
<div class="t h1" style="left:1065.6px;top:1580.0px;width:400px;height:40px;line-height:40px;"><span class="cx" style="transform:scaleX(0.72)">CRF-1300C/LA</span></div>
<div class="t h2" style="left:1065.6px;top:1619.2px;width:400px;height:40px;line-height:40px;"><span class="cx" style="transform:scaleX(0.762)">CRF-1300W/SN1</span></div>
<div class="t h1" style="left:1311.9px;top:1580.0px;width:400px;height:40px;line-height:40px;"><span class="cx" style="transform:scaleX(0.72)">CRF-1500C/LA</span></div>
<div class="t h2" style="left:1312.3px;top:1619.2px;width:400px;height:40px;line-height:40px;"><span class="cx" style="transform:scaleX(0.762)">CRF-1500W/SN1</span></div>
<div class="t h1" style="left:1556.9px;top:1580.0px;width:400px;height:40px;line-height:40px;"><span class="cx" style="transform:scaleX(0.72)">CRF-1630C/LA</span></div>
<div class="t h2" style="left:1556.9px;top:1619.2px;width:400px;height:40px;line-height:40px;"><span class="cx" style="transform:scaleX(0.762)">CRF-1630W/SN1</span></div>
<div class="t h1" style="left:1802.2px;top:1580.0px;width:400px;height:40px;line-height:40px;"><span class="cx" style="transform:scaleX(0.72)">CRF-2000C/LA</span></div>
<div class="t h2" style="left:1802.2px;top:1619.2px;width:400px;height:40px;line-height:40px;"><span class="cx" style="transform:scaleX(0.762)">CRF-2000W/SN1</span></div>
<div class="t cl" style="left:245.5px;top:1686.7px;width:400px;height:40px;line-height:40px;">室外机组合方式</div>
<div class="t cb" style="left:574.6px;top:1658.8px;width:400px;height:100px;"><span class="cbi" style="text-align:center;line-height:34.6px">2<span class="ast">∗</span>CRF-450W/SN1</span></div>
<div class="t cb" style="left:819.5px;top:1658.8px;width:400px;height:100px;"><span class="cbi" style="text-align:center;line-height:34.6px">2<span class="ast">∗</span>CRF-500W/SN1</span></div>
<div class="t cb" style="left:1065.3px;top:1655.8px;width:400px;height:100px;"><span class="cbi" style="text-align:center;line-height:34.6px">2<span class="ast">∗</span>CRF-500W/SN1<br>CRF-315W/SN1</span></div>
<div class="t cb" style="left:1311.6px;top:1658.8px;width:400px;height:100px;"><span class="cbi" style="text-align:center;line-height:34.6px">3<span class="ast">∗</span>CRF-500W/SN1</span></div>
<div class="t cb" style="left:1556.5px;top:1655.8px;width:400px;height:100px;"><span class="cbi" style="text-align:center;line-height:34.6px">2<span class="ast">∗</span>CRF-500W/SN1<br>2<span class="ast">∗</span>CRF-315W/SN1</span></div>
<div class="t cb" style="left:1801.7px;top:1658.8px;width:400px;height:100px;"><span class="cbi" style="text-align:center;line-height:34.6px">4<span class="ast">∗</span>CRF-500W/SN1</span></div>
<div class="t cl" style="left:189.1px;top:1754.5px;width:400px;height:40px;line-height:40px;">制冷量</div>
<div class="t u" style="left:396.5px;top:1753.6px;width:400px;height:40px;line-height:40px;">kW</div>
<div class="t d" style="left:575.3px;top:1755.5px;width:400px;height:40px;line-height:40px;">90</div>
<div class="t d" style="left:821.2px;top:1755.5px;width:400px;height:40px;line-height:40px;">100</div>
<div class="t d" style="left:1066.1px;top:1755.5px;width:400px;height:40px;line-height:40px;">131.5</div>
<div class="t d" style="left:1312.0px;top:1755.5px;width:400px;height:40px;line-height:40px;">150</div>
<div class="t d" style="left:1557.0px;top:1755.5px;width:400px;height:40px;line-height:40px;">163</div>
<div class="t d" style="left:1802.0px;top:1755.5px;width:400px;height:40px;line-height:40px;">200</div>
<div class="t cl" style="left:189.1px;top:1791.7px;width:400px;height:40px;line-height:40px;">制热量</div>
<div class="t u" style="left:396.5px;top:1790.8px;width:400px;height:40px;line-height:40px;">kW</div>
<div class="t d" style="left:575.3px;top:1790.0px;width:400px;height:40px;line-height:40px;">71.6</div>
<div class="t d" style="left:821.2px;top:1790.0px;width:400px;height:40px;line-height:40px;">79.6</div>
<div class="t d" style="left:1066.1px;top:1790.0px;width:400px;height:40px;line-height:40px;">103.2</div>
<div class="t d" style="left:1312.0px;top:1790.0px;width:400px;height:40px;line-height:40px;">119.4</div>
<div class="t d" style="left:1557.0px;top:1790.0px;width:400px;height:40px;line-height:40px;">126.8</div>
<div class="t d" style="left:1802.0px;top:1790.0px;width:400px;height:40px;line-height:40px;">159.2</div>
<div class="t cl" style="left:245.5px;top:1829.8px;width:400px;height:40px;line-height:40px;">电源</div>
<div class="t d" style="left:1182.6px;top:1827.6px;width:400px;height:40px;line-height:40px;">380V 3N ~50Hz</div>
<div class="t cl" style="left:189.1px;top:1865.2px;width:400px;height:40px;line-height:40px;">名义风量</div>
<div class="t u" style="left:396.5px;top:1865.0px;width:400px;height:40px;line-height:40px;">m<sup>3</sup>/h</div>
<div class="t d" style="left:575.3px;top:1863.7px;width:400px;height:40px;line-height:40px;">18800</div>
<div class="t d" style="left:821.2px;top:1863.7px;width:400px;height:40px;line-height:40px;">21000</div>
<div class="t d" style="left:1066.1px;top:1863.7px;width:400px;height:40px;line-height:40px;">27200</div>
<div class="t d" style="left:1312.0px;top:1863.7px;width:400px;height:40px;line-height:40px;">31500</div>
<div class="t d" style="left:1557.0px;top:1863.7px;width:400px;height:40px;line-height:40px;">34000</div>
<div class="t d" style="left:1802.0px;top:1863.7px;width:400px;height:40px;line-height:40px;">41500</div>
<div class="t cl" style="left:189.1px;top:1904.0px;width:400px;height:40px;line-height:40px;">机外余压</div>
<div class="t u" style="left:396.5px;top:1903.1px;width:400px;height:40px;line-height:40px;">Pa</div>
<div class="t d" style="left:575.3px;top:1902.4px;width:400px;height:40px;line-height:40px;">350</div>
<div class="t d" style="left:821.2px;top:1902.4px;width:400px;height:40px;line-height:40px;">350</div>
<div class="t d" style="left:1066.1px;top:1902.4px;width:400px;height:40px;line-height:40px;">350</div>
<div class="t d" style="left:1312.0px;top:1900.7px;width:400px;height:40px;line-height:40px;">400</div>
<div class="t d" style="left:1557.0px;top:1900.7px;width:400px;height:40px;line-height:40px;">400</div>
<div class="t d" style="left:1802.0px;top:1900.7px;width:400px;height:40px;line-height:40px;">400</div>
<div class="t cl" style="left:287.1px;top:1940.1px;width:400px;height:40px;line-height:40px;">高</div>
<div class="t u" style="left:396.5px;top:1936.0px;width:400px;height:40px;line-height:40px;">mm</div>
<div class="t d" style="left:575.3px;top:1936.5px;width:400px;height:40px;line-height:40px;">2138</div>
<div class="t d" style="left:821.2px;top:1936.5px;width:400px;height:40px;line-height:40px;">2138</div>
<div class="t d" style="left:1066.1px;top:1936.5px;width:400px;height:40px;line-height:40px;">2438</div>
<div class="t d" style="left:1312.0px;top:1936.5px;width:400px;height:40px;line-height:40px;">2438</div>
<div class="t d" style="left:1557.0px;top:1936.5px;width:400px;height:40px;line-height:40px;">2688</div>
<div class="t d" style="left:1802.0px;top:1936.5px;width:400px;height:40px;line-height:40px;">3038</div>
<div class="t cl" style="left:287.1px;top:1976.9px;width:400px;height:40px;line-height:40px;">宽</div>
<div class="t u" style="left:396.5px;top:1971.7px;width:400px;height:40px;line-height:40px;">mm</div>
<div class="t d" style="left:575.3px;top:1974.4px;width:400px;height:40px;line-height:40px;">2100</div>
<div class="t d" style="left:821.2px;top:1974.4px;width:400px;height:40px;line-height:40px;">2300</div>
<div class="t d" style="left:1066.1px;top:1974.4px;width:400px;height:40px;line-height:40px;">2650</div>
<div class="t d" style="left:1312.0px;top:1974.4px;width:400px;height:40px;line-height:40px;">2850</div>
<div class="t d" style="left:1557.0px;top:1974.4px;width:400px;height:40px;line-height:40px;">2850</div>
<div class="t d" style="left:1802.0px;top:1974.4px;width:400px;height:40px;line-height:40px;">3050</div>
<div class="t cl" style="left:287.1px;top:2013.0px;width:400px;height:40px;line-height:40px;">深</div>
<div class="t u" style="left:396.5px;top:2010.9px;width:400px;height:40px;line-height:40px;">mm</div>
<div class="t d" style="left:575.3px;top:2012.5px;width:400px;height:40px;line-height:40px;">900</div>
<div class="t d" style="left:821.2px;top:2012.5px;width:400px;height:40px;line-height:40px;">900</div>
<div class="t d" style="left:1066.1px;top:2012.5px;width:400px;height:40px;line-height:40px;">1200</div>
<div class="t d" style="left:1312.0px;top:2012.5px;width:400px;height:40px;line-height:40px;">1200</div>
<div class="t d" style="left:1557.0px;top:2012.5px;width:400px;height:40px;line-height:40px;">1200</div>
<div class="t d" style="left:1802.0px;top:2012.5px;width:400px;height:40px;line-height:40px;">1200</div>
<div class="t cl" style="left:287.1px;top:2050.8px;width:400px;height:40px;line-height:40px;">液管</div>
<div class="t u" style="left:396.5px;top:2047.5px;width:400px;height:40px;line-height:40px;">mm</div>
<div class="t d" style="left:575.3px;top:2049.1px;width:400px;height:40px;line-height:40px;">19.05</div>
<div class="t d" style="left:821.2px;top:2049.1px;width:400px;height:40px;line-height:40px;">19.05</div>
<div class="t d" style="left:1066.1px;top:2049.1px;width:400px;height:40px;line-height:40px;">19.05</div>
<div class="t d" style="left:1312.0px;top:2049.1px;width:400px;height:40px;line-height:40px;">19.05</div>
<div class="t d" style="left:1557.0px;top:2049.1px;width:400px;height:40px;line-height:40px;">19.05</div>
<div class="t d" style="left:1802.0px;top:2049.1px;width:400px;height:40px;line-height:40px;">22.2</div>
<div class="t cl" style="left:287.1px;top:2086.7px;width:400px;height:40px;line-height:40px;">气管</div>
<div class="t u" style="left:396.5px;top:2084.5px;width:400px;height:40px;line-height:40px;">mm</div>
<div class="t d" style="left:575.3px;top:2085.8px;width:400px;height:40px;line-height:40px;">31.8</div>
<div class="t d" style="left:821.2px;top:2085.8px;width:400px;height:40px;line-height:40px;">38.1</div>
<div class="t d" style="left:1066.1px;top:2085.8px;width:400px;height:40px;line-height:40px;">38.1</div>
<div class="t d" style="left:1312.0px;top:2085.8px;width:400px;height:40px;line-height:40px;">41.3</div>
<div class="t d" style="left:1557.0px;top:2085.8px;width:400px;height:40px;line-height:40px;">41.3</div>
<div class="t d" style="left:1802.0px;top:2085.8px;width:400px;height:40px;line-height:40px;">44.5</div>
<div class="t cl" style="left:283.1px;top:2122.8px;width:400px;height:40px;line-height:40px;">宽</div>
<div class="t u" style="left:396.5px;top:2122.5px;width:400px;height:40px;line-height:40px;">mm</div>
<div class="t d" style="left:575.3px;top:2124.2px;width:400px;height:40px;line-height:40px;">1100</div>
<div class="t d" style="left:821.2px;top:2124.2px;width:400px;height:40px;line-height:40px;">1100</div>
<div class="t d" style="left:1066.1px;top:2124.2px;width:400px;height:40px;line-height:40px;">465</div>
<div class="t d" style="left:1312.0px;top:2124.2px;width:400px;height:40px;line-height:40px;">465</div>
<div class="t d" style="left:1557.0px;top:2124.2px;width:400px;height:40px;line-height:40px;">465</div>
<div class="t d" style="left:1802.0px;top:2124.2px;width:400px;height:40px;line-height:40px;">465</div>
<div class="t cl" style="left:283.1px;top:2159.8px;width:400px;height:40px;line-height:40px;">高</div>
<div class="t u" style="left:396.5px;top:2160.3px;width:400px;height:40px;line-height:40px;">mm</div>
<div class="t d" style="left:575.3px;top:2160.0px;width:400px;height:40px;line-height:40px;">950</div>
<div class="t d" style="left:821.2px;top:2160.0px;width:400px;height:40px;line-height:40px;">950</div>
<div class="t d" style="left:1066.1px;top:2160.0px;width:400px;height:40px;line-height:40px;">1200</div>
<div class="t d" style="left:1312.0px;top:2160.0px;width:400px;height:40px;line-height:40px;">1400</div>
<div class="t d" style="left:1557.0px;top:2160.0px;width:400px;height:40px;line-height:40px;">1600</div>
<div class="t d" style="left:1802.0px;top:2160.0px;width:400px;height:40px;line-height:40px;">1900</div>
<div class="t cl" style="left:189.1px;top:2199.0px;width:400px;height:40px;line-height:40px;">风机功率</div>
<div class="t u" style="left:395.3px;top:2197.4px;width:400px;height:40px;line-height:40px;">kW</div>
<div class="t d" style="left:575.3px;top:2197.0px;width:400px;height:40px;line-height:40px;">7.5</div>
<div class="t d" style="left:821.2px;top:2197.0px;width:400px;height:40px;line-height:40px;">7.5</div>
<div class="t d" style="left:1066.1px;top:2197.0px;width:400px;height:40px;line-height:40px;">5.5+5.5</div>
<div class="t d" style="left:1312.0px;top:2197.0px;width:400px;height:40px;line-height:40px;">5.5+5.5</div>
<div class="t d" style="left:1557.0px;top:2197.0px;width:400px;height:40px;line-height:40px;">7.5+7.5</div>
<div class="t d" style="left:1802.0px;top:2197.0px;width:400px;height:40px;line-height:40px;">9.0+9.0</div>
<div class="t cl" style="left:189.1px;top:2233.9px;width:400px;height:40px;line-height:40px;">噪音</div>
<div class="t u" style="left:395.3px;top:2232.8px;width:400px;height:40px;line-height:40px;">dB(A)</div>
<div class="t d" style="left:575.3px;top:2234.2px;width:400px;height:40px;line-height:40px;">73</div>
<div class="t d" style="left:821.2px;top:2234.2px;width:400px;height:40px;line-height:40px;">75</div>
<div class="t d" style="left:1066.1px;top:2234.2px;width:400px;height:40px;line-height:40px;">77</div>
<div class="t d" style="left:1312.0px;top:2234.2px;width:400px;height:40px;line-height:40px;">79</div>
<div class="t d" style="left:1557.0px;top:2234.2px;width:400px;height:40px;line-height:40px;">80</div>
<div class="t d" style="left:1802.0px;top:2234.2px;width:400px;height:40px;line-height:40px;">82</div>
<div class="t cl" style="left:189.1px;top:2270.5px;width:400px;height:40px;line-height:40px;">冷凝水管</div>
<div class="t u" style="left:396.5px;top:2269.9px;width:400px;height:40px;line-height:40px;">mm</div>
<div class="t d" style="left:575.3px;top:2270.4px;width:400px;height:40px;line-height:40px;">DN32</div>
<div class="t d" style="left:821.2px;top:2270.4px;width:400px;height:40px;line-height:40px;">DN32</div>
<div class="t d" style="left:1066.1px;top:2270.4px;width:400px;height:40px;line-height:40px;">DN32</div>
<div class="t d" style="left:1312.0px;top:2270.4px;width:400px;height:40px;line-height:40px;">DN32</div>
<div class="t d" style="left:1557.0px;top:2270.4px;width:400px;height:40px;line-height:40px;">DN32</div>
<div class="t d" style="left:1802.0px;top:2270.4px;width:400px;height:40px;line-height:40px;">DN32</div>
<div class="t cl" style="left:189.1px;top:2308.7px;width:400px;height:40px;line-height:40px;">重量</div>
<div class="t u" style="left:396.5px;top:2306.8px;width:400px;height:40px;line-height:40px;">kg</div>
<div class="t d" style="left:575.3px;top:2307.4px;width:400px;height:40px;line-height:40px;">385</div>
<div class="t d" style="left:821.2px;top:2307.4px;width:400px;height:40px;line-height:40px;">410</div>
<div class="t d" style="left:1066.1px;top:2307.4px;width:400px;height:40px;line-height:40px;">495</div>
<div class="t d" style="left:1312.0px;top:2307.4px;width:400px;height:40px;line-height:40px;">565</div>
<div class="t d" style="left:1557.0px;top:2307.4px;width:400px;height:40px;line-height:40px;">630</div>
<div class="t d" style="left:1802.0px;top:2307.4px;width:400px;height:40px;line-height:40px;">730</div>
<div class="t cl" style="left:136.3px;top:1980.1px;width:400px;height:40px;line-height:40px;">内机尺寸</div>
<div class="t cl" style="left:136.3px;top:2065.9px;width:400px;height:40px;line-height:40px;">接管尺寸</div>
<div class="t cl" style="left:136.3px;top:2141.2px;width:400px;height:40px;line-height:40px;">回风法兰尺寸</div>
<div class="t sd" style="left:83.0px;top:1888.0px;width:60px;height:50px;line-height:50px;">室</div>
<div class="t sd" style="left:83.0px;top:1938.0px;width:60px;height:50px;line-height:50px;">内</div>
<div class="t sd" style="left:83.0px;top:1988.0px;width:60px;height:50px;line-height:50px;">机</div>
<div class="t nt" style="left:3.5px;top:2357px;height:40px;line-height:40px;width:1500px">注：<span class="la">1</span>、额定制冷量是在名义风量时，室外干湿球温度<span class="la">35/28˚C</span>和室内干湿球温度<span class="la">27/19˚C</span>条件下测定</div>
<div class="t nt" style="left:55.3px;top:2404px;height:40px;line-height:40px;width:1500px"><span class="la">2</span>、额定制冷量是在名义风量时，室外干湿球温度<span class="la">7/6˚C</span>和室内干湿度<span class="la">20/15˚C</span>条件下测定</div>
<div class="t nt" style="left:55.3px;top:2450.3px;height:40px;line-height:40px;width:1500px"><span class="la">3</span>、额定制冷量没有考虑风机电机的发热损失，名义风量值标准状况下的运行风量</div>
<div class="t nt" style="left:55.3px;top:2497px;height:40px;line-height:40px;width:1500px"><span class="la">4</span>、机外静压可根据客户要求定制</div>
<div class="t nt" style="left:55.3px;top:2542.8px;height:40px;line-height:40px;width:1500px"><span class="la">5</span>、技术参数如因产品改良而更改，恕不另行通知，请以机组铭牌为准</div>
</div></body></html>
